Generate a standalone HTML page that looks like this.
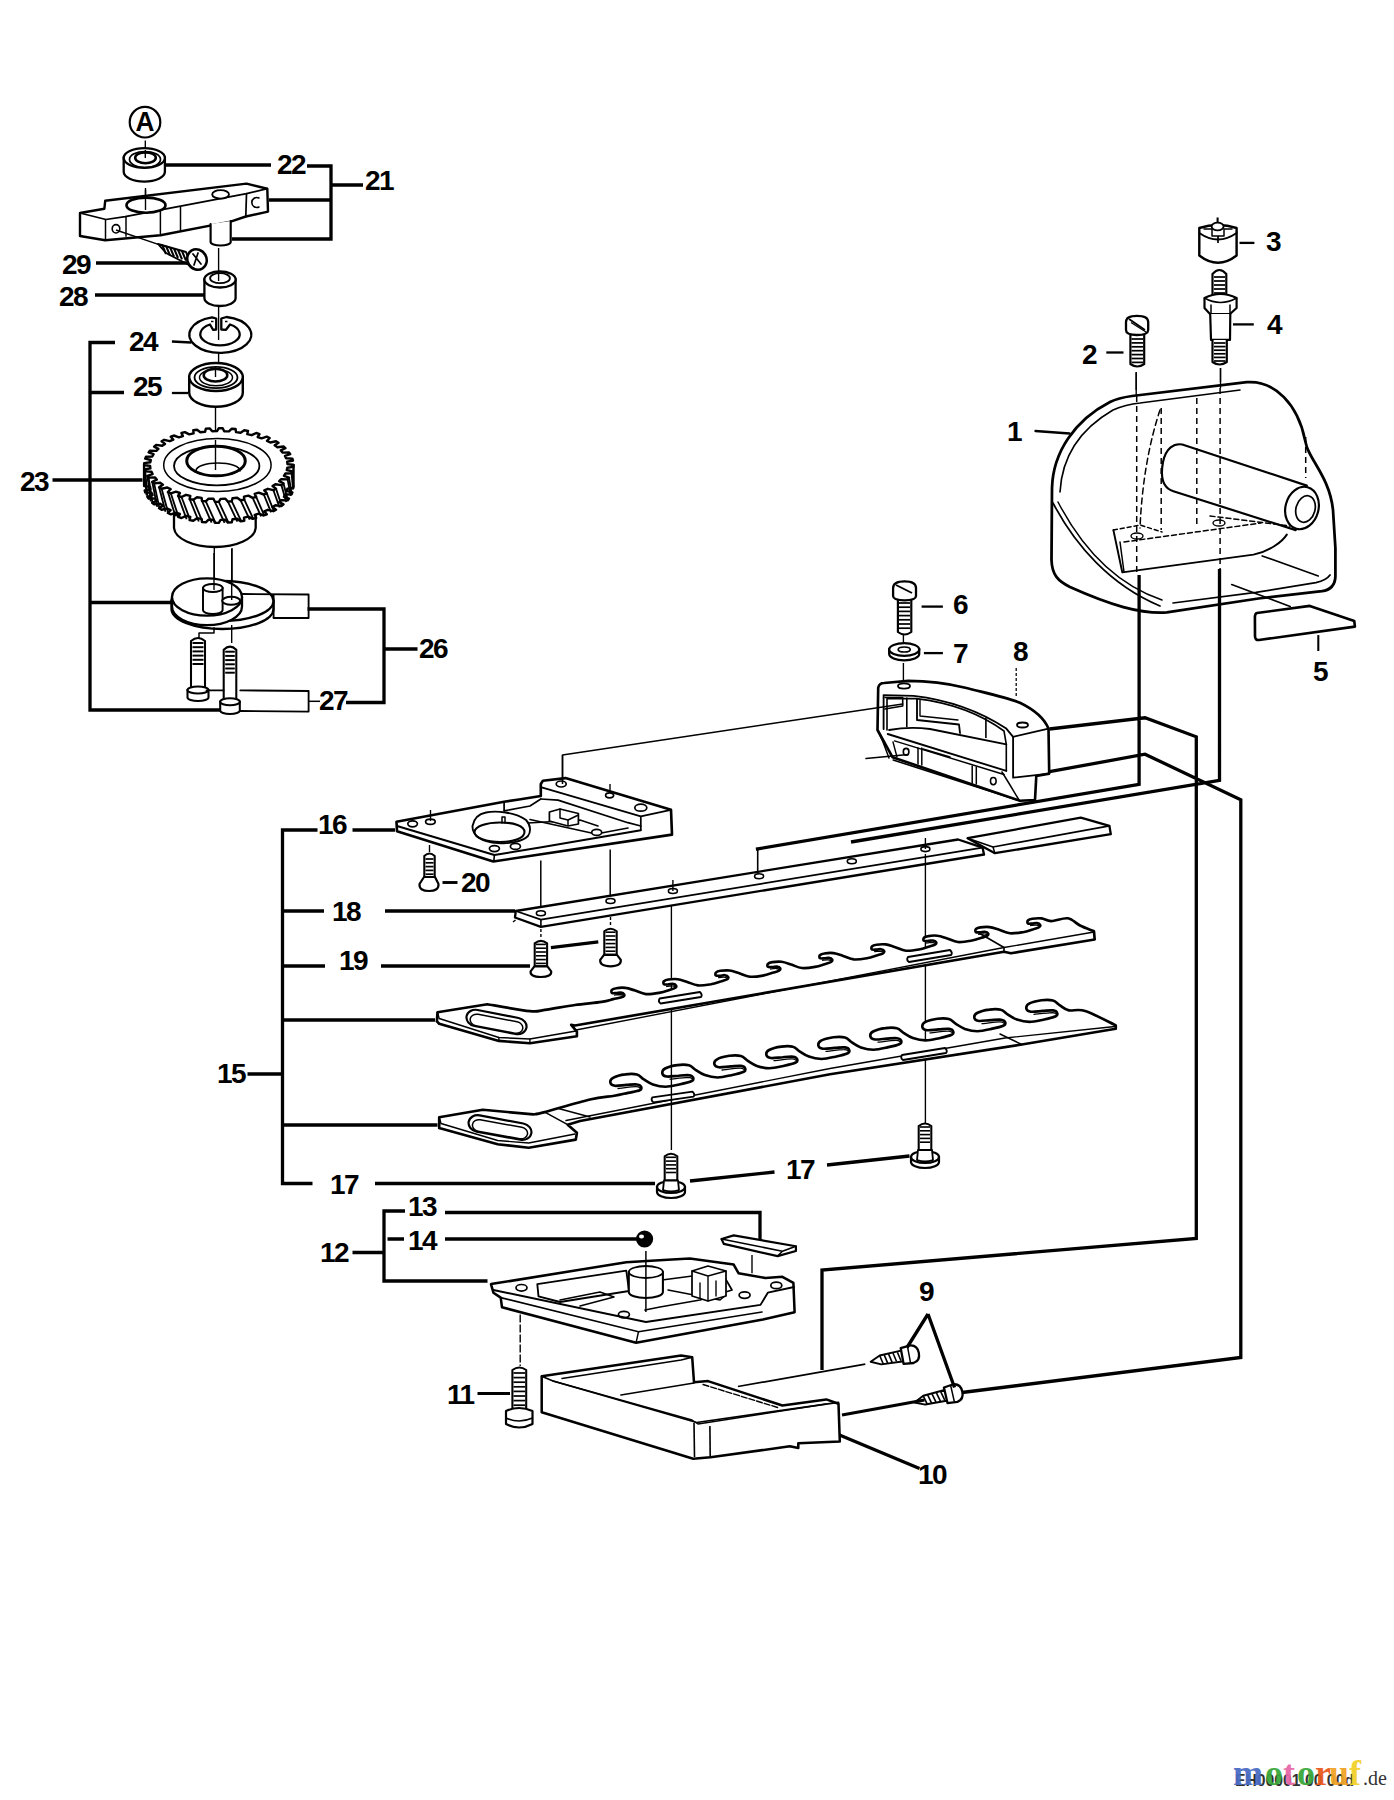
<!DOCTYPE html>
<html><head><meta charset="utf-8"><style>
html,body{margin:0;padding:0;background:#fff;}
svg{display:block;}
</style></head><body>
<svg width="1394" height="1800" viewBox="0 0 1394 1800">
<rect width="1394" height="1800" fill="#fff"/>
<ellipse cx="145" cy="122.2" rx="15.3" ry="15.3" fill="#fff" stroke="#000" stroke-width="2.18" />
<text x="145" y="131" text-anchor="middle" font-family="Liberation Sans" font-weight="bold" font-size="28.5" transform="translate(145 0) scale(0.92 1) translate(-145 0)">A</text>
<line x1="145.3" y1="140.5" x2="145.3" y2="157" stroke="#000" stroke-width="1.38" />
<path d="M123.70000000000002,158 L123.70000000000002,171.8 A20.6,9.8 0 0 0 164.9,171.8 L164.9,158 Z" fill="#fff" stroke="#000" stroke-width="2.30"/><ellipse cx="144.3" cy="158" rx="20.6" ry="9.8" fill="#fff" stroke="#000" stroke-width="2.30" />
<ellipse cx="145" cy="159.5" rx="15.5" ry="8" fill="none" stroke="#000" stroke-width="1.72" />
<ellipse cx="145.5" cy="157.8" rx="10.3" ry="5.4" fill="none" stroke="#000" stroke-width="2.53" />
<line x1="145.3" y1="150" x2="145.3" y2="158" stroke="#000" stroke-width="1.38" />
<line x1="145.5" y1="190" x2="145.5" y2="207" stroke="#000" stroke-width="1.38" />
<path d="M80,213 L104.4,208.7 L105.2,200.8 L246.5,183.6 L267.3,188.7 L268,211.6 L245.8,216.5 L230.7,221.6 L160.4,235.3 L105.2,240.3 L80,236 Z" fill="#fff" stroke="#000" stroke-width="2.42" stroke-linejoin="round" stroke-linecap="round" />
<path d="M80,213 L105.9,219.5 L125.2,216.6 L246.5,193.7 L267.3,188.7" fill="none" stroke="#000" stroke-width="1.72" stroke-linejoin="round" stroke-linecap="round" />
<path d="M246.5,193.7 L245.8,216.5" fill="none" stroke="#000" stroke-width="1.72" stroke-linejoin="round" stroke-linecap="round" />
<line x1="105.5" y1="219.5" x2="105.5" y2="240.3" stroke="#000" stroke-width="1.49" />
<line x1="126" y1="216.6" x2="126" y2="236.8" stroke="#000" stroke-width="1.49" />
<line x1="160.4" y1="211" x2="160.4" y2="235.3" stroke="#000" stroke-width="1.49" />
<line x1="180.5" y1="207" x2="180.5" y2="232" stroke="#000" stroke-width="1.49" />
<ellipse cx="146" cy="205.2" rx="19.5" ry="7.6" fill="#fff" stroke="#000" stroke-width="2.64" />
<line x1="145.5" y1="188" x2="145.5" y2="210" stroke="#000" stroke-width="1.38" />
<ellipse cx="220.6" cy="194.4" rx="8.4" ry="4.2" fill="#fff" stroke="#000" stroke-width="1.84" />
<ellipse cx="116" cy="228.8" rx="3.8" ry="4.2" fill="none" stroke="#000" stroke-width="1.61" />
<path d="M259,198 A5,5 0 1,0 259,207" fill="none" stroke="#000" stroke-width="1.61" stroke-linejoin="round" stroke-linecap="round" />
<path d="M210.6,224 L210.6,242 A10,3.5 0 0,0 230.7,242 L230.7,221" fill="#fff" stroke="#000" stroke-width="2.18" stroke-linejoin="round" stroke-linecap="round" />
<line x1="116" y1="230" x2="159" y2="244.6" stroke="#000" stroke-width="1.49" />
<path d="M158,244 L186,252 L191,266 L166,253 Z" fill="#fff" stroke="#000" stroke-width="1.84" stroke-linejoin="round" stroke-linecap="round" />
<line x1="162.0" y1="244.5" x2="166.0" y2="254.0" stroke="#000" stroke-width="2.07" />
<line x1="166.0" y1="245.8" x2="170.0" y2="255.3" stroke="#000" stroke-width="2.07" />
<line x1="170.0" y1="247.2" x2="174.0" y2="256.7" stroke="#000" stroke-width="2.07" />
<line x1="174.0" y1="248.5" x2="178.0" y2="258.0" stroke="#000" stroke-width="2.07" />
<line x1="178.0" y1="249.8" x2="182.0" y2="259.3" stroke="#000" stroke-width="2.07" />
<line x1="182.0" y1="251.2" x2="186.0" y2="260.7" stroke="#000" stroke-width="2.07" />
<ellipse cx="197" cy="259.5" rx="9.5" ry="10.5" fill="#fff" stroke="#000" stroke-width="2.53" transform="rotate(-30 197 259.5)"/>
<path d="M193,254 L201,264 M198,253 L194,265" fill="none" stroke="#000" stroke-width="1.72" stroke-linejoin="round" stroke-linecap="round" />
<line x1="218.6" y1="248" x2="218.6" y2="281" stroke="#000" stroke-width="1.38" />
<path d="M204.4,279.5 L204.4,298.0 A15.6,8 0 0 0 235.6,298.0 L235.6,279.5 Z" fill="#fff" stroke="#000" stroke-width="2.30"/><ellipse cx="220" cy="279.5" rx="15.6" ry="8" fill="#fff" stroke="#000" stroke-width="2.30" />
<ellipse cx="220" cy="278.2" rx="9.9" ry="5.0" fill="none" stroke="#000" stroke-width="1.84" />
<line x1="218.6" y1="270" x2="218.6" y2="281" stroke="#000" stroke-width="1.38" />
<line x1="218.6" y1="305" x2="218.6" y2="340" stroke="#000" stroke-width="1.38" />
<path d="M212,317.3 A31,18.1 0 1,0 226.5,317 L221.3,318.5 L221.3,329.5 L226,329.8 L230,324.5 A19.7,11.2 0 1,1 210,324.5 L213,329.8 L216.2,329.5 L216.2,318.5 Z" fill="#fff" stroke="#000" stroke-width="2.30" stroke-linejoin="round" stroke-linecap="round" />
<line x1="211" y1="321.5" x2="213.5" y2="321.5" stroke="#000" stroke-width="1.49" />
<line x1="225" y1="321.5" x2="227.5" y2="321.5" stroke="#000" stroke-width="1.49" />
<line x1="171.9" y1="341.5" x2="191.2" y2="342.5" stroke="#000" stroke-width="2.30" />
<line x1="218.6" y1="352" x2="218.6" y2="378" stroke="#000" stroke-width="1.38" />
<path d="M189.2,377 L189.2,392.8 A26.8,14 0 0 0 242.8,392.8 L242.8,377 Z" fill="#fff" stroke="#000" stroke-width="2.42"/><ellipse cx="216" cy="377" rx="26.8" ry="14" fill="#fff" stroke="#000" stroke-width="2.42" />
<ellipse cx="216" cy="377.5" rx="21.5" ry="10.6" fill="none" stroke="#000" stroke-width="1.84" />
<ellipse cx="216" cy="377.5" rx="16.5" ry="8.3" fill="none" stroke="#000" stroke-width="1.49" />
<ellipse cx="215.5" cy="375.2" rx="11.8" ry="6.4" fill="none" stroke="#000" stroke-width="2.53" />
<line x1="215.5" y1="366" x2="215.5" y2="377" stroke="#000" stroke-width="1.38" />
<line x1="171.9" y1="393" x2="188" y2="393" stroke="#000" stroke-width="2.30" />
<line x1="215.5" y1="408" x2="215.5" y2="470" stroke="#000" stroke-width="1.38" />
<path d="M174,515 L174,528 A40.9,20 0 0,0 255.7,528 L255.7,515 Z" fill="#fff" stroke="#000" stroke-width="2.30" stroke-linejoin="round" stroke-linecap="round" />
<path d="M293.5,465 L293.5,486.0 L293.4,487.9 L287.3,488.7 L286.8,491.0 L292.4,492.4 L291.6,494.3 L285.3,494.5 L284.0,496.8 L289.0,498.6 L287.6,500.4 L281.3,500.1 L279.2,502.2 L283.5,504.4 L281.4,506.1 L275.4,505.2 L272.6,507.1 L276.0,509.7 L273.4,511.2 L267.8,509.8 L264.3,511.4 L266.8,514.3 L263.8,515.5 L258.7,513.6 L254.7,514.9 L256.2,518.0 L252.7,518.9 L248.4,516.6 L244.0,517.6 L244.3,520.7 L240.6,521.3 L237.2,518.7 L232.5,519.3 L231.8,522.3 L227.9,522.6 L225.4,519.8 L220.6,519.9 L218.8,522.9 L214.9,522.8 L213.4,519.8 L208.6,519.6 L205.8,522.3 L202.0,522.0 L201.6,518.9 L197.0,518.2 L193.3,520.7 L189.6,520.0 L190.3,516.9 L186.0,515.8 L181.5,518.0 L178.1,516.9 L179.9,514.0 L176.0,512.6 L170.8,514.3 L167.9,513.0 L170.6,510.2 L167.3,508.5 L161.6,509.7 L159.1,508.2 L162.9,505.7 L160.2,503.7 L154.1,504.4 L152.2,502.8 L156.8,500.6 L154.9,498.4 L148.6,498.6 L147.4,496.8 L152.6,495.1 L151.5,492.8 L145.2,492.4 L144.7,490.5 L150.4,489.3 L150.1,486.9 L144.1,486.0 L144.10000000000002,465 Z" fill="#fff" stroke="#000" stroke-width="2.42" stroke-linejoin="round" stroke-linecap="round" />
<line x1="291.6" y1="473.3" x2="293.1" y2="489.6" stroke="#000" stroke-width="1.84" />
<line x1="292.4" y1="471.4" x2="293.4" y2="487.6" stroke="#000" stroke-width="1.84" />
<line x1="287.6" y1="479.4" x2="290.8" y2="495.9" stroke="#000" stroke-width="1.84" />
<line x1="289.0" y1="477.6" x2="291.7" y2="494.0" stroke="#000" stroke-width="1.84" />
<line x1="281.4" y1="485.1" x2="286.2" y2="501.9" stroke="#000" stroke-width="1.84" />
<line x1="283.5" y1="483.4" x2="287.8" y2="500.2" stroke="#000" stroke-width="1.84" />
<line x1="273.4" y1="490.2" x2="279.6" y2="507.5" stroke="#000" stroke-width="1.84" />
<line x1="276.0" y1="488.7" x2="281.8" y2="505.9" stroke="#000" stroke-width="1.84" />
<line x1="263.8" y1="494.5" x2="271.1" y2="512.3" stroke="#000" stroke-width="1.84" />
<line x1="266.8" y1="493.3" x2="273.8" y2="511.0" stroke="#000" stroke-width="1.84" />
<line x1="252.7" y1="497.9" x2="261.1" y2="516.4" stroke="#000" stroke-width="1.84" />
<line x1="256.2" y1="497.0" x2="264.2" y2="515.3" stroke="#000" stroke-width="1.84" />
<line x1="240.6" y1="500.3" x2="249.7" y2="519.6" stroke="#000" stroke-width="1.84" />
<line x1="244.3" y1="499.7" x2="253.2" y2="518.7" stroke="#000" stroke-width="1.84" />
<line x1="227.9" y1="501.6" x2="237.4" y2="521.7" stroke="#000" stroke-width="1.84" />
<line x1="231.8" y1="501.3" x2="241.2" y2="521.2" stroke="#000" stroke-width="1.84" />
<line x1="214.9" y1="501.8" x2="224.6" y2="522.8" stroke="#000" stroke-width="1.84" />
<line x1="218.8" y1="501.9" x2="228.5" y2="522.6" stroke="#000" stroke-width="1.84" />
<line x1="202.0" y1="501.0" x2="211.6" y2="522.7" stroke="#000" stroke-width="1.84" />
<line x1="205.8" y1="501.3" x2="215.5" y2="522.9" stroke="#000" stroke-width="1.84" />
<line x1="189.6" y1="499.0" x2="198.8" y2="521.5" stroke="#000" stroke-width="1.84" />
<line x1="193.3" y1="499.7" x2="202.6" y2="522.0" stroke="#000" stroke-width="1.84" />
<line x1="178.1" y1="495.9" x2="186.6" y2="519.3" stroke="#000" stroke-width="1.84" />
<line x1="181.5" y1="497.0" x2="190.2" y2="520.1" stroke="#000" stroke-width="1.84" />
<line x1="167.9" y1="492.0" x2="175.4" y2="516.0" stroke="#000" stroke-width="1.84" />
<line x1="170.8" y1="493.3" x2="178.6" y2="517.1" stroke="#000" stroke-width="1.84" />
<line x1="159.1" y1="487.2" x2="165.5" y2="511.8" stroke="#000" stroke-width="1.84" />
<line x1="161.6" y1="488.7" x2="168.3" y2="513.2" stroke="#000" stroke-width="1.84" />
<line x1="152.2" y1="481.8" x2="157.2" y2="506.9" stroke="#000" stroke-width="1.84" />
<line x1="154.1" y1="483.4" x2="159.5" y2="508.4" stroke="#000" stroke-width="1.84" />
<line x1="147.4" y1="475.8" x2="150.8" y2="501.3" stroke="#000" stroke-width="1.84" />
<line x1="148.6" y1="477.6" x2="152.5" y2="503.0" stroke="#000" stroke-width="1.84" />
<line x1="144.7" y1="469.5" x2="146.5" y2="495.2" stroke="#000" stroke-width="1.84" />
<line x1="145.2" y1="471.4" x2="147.5" y2="497.1" stroke="#000" stroke-width="1.84" />
<path d="M293.5,465.0 L293.4,466.9 L287.3,467.7 L286.8,470.0 L292.4,471.4 L291.6,473.3 L285.3,473.5 L284.0,475.8 L289.0,477.6 L287.6,479.4 L281.3,479.1 L279.2,481.2 L283.5,483.4 L281.4,485.1 L275.4,484.2 L272.6,486.1 L276.0,488.7 L273.4,490.2 L267.8,488.8 L264.3,490.4 L266.8,493.3 L263.8,494.5 L258.7,492.6 L254.7,493.9 L256.2,497.0 L252.7,497.9 L248.4,495.6 L244.0,496.6 L244.3,499.7 L240.6,500.3 L237.2,497.7 L232.5,498.3 L231.8,501.3 L227.9,501.6 L225.4,498.8 L220.6,498.9 L218.8,501.9 L214.9,501.8 L213.4,498.8 L208.6,498.6 L205.8,501.3 L202.0,501.0 L201.6,497.9 L197.0,497.2 L193.3,499.7 L189.6,499.0 L190.3,495.9 L186.0,494.8 L181.5,497.0 L178.1,495.9 L179.9,493.0 L176.0,491.6 L170.8,493.3 L167.9,492.0 L170.6,489.2 L167.3,487.5 L161.6,488.7 L159.1,487.2 L162.9,484.7 L160.2,482.7 L154.1,483.4 L152.2,481.8 L156.8,479.6 L154.9,477.4 L148.6,477.6 L147.4,475.8 L152.6,474.1 L151.5,471.8 L145.2,471.4 L144.7,469.5 L150.4,468.3 L150.1,465.9 L144.1,465.0 L144.2,463.1 L150.3,462.3 L150.8,460.0 L145.2,458.6 L146.0,456.7 L152.3,456.5 L153.6,454.2 L148.6,452.4 L150.0,450.6 L156.3,450.9 L158.4,448.8 L154.1,446.6 L156.2,444.9 L162.2,445.8 L165.0,443.9 L161.6,441.3 L164.2,439.8 L169.8,441.2 L173.3,439.6 L170.8,436.7 L173.8,435.5 L178.9,437.4 L182.9,436.1 L181.4,433.0 L184.9,432.1 L189.2,434.4 L193.6,433.4 L193.3,430.3 L197.0,429.7 L200.4,432.3 L205.1,431.7 L205.8,428.7 L209.7,428.4 L212.2,431.2 L217.0,431.1 L218.8,428.1 L222.7,428.2 L224.2,431.2 L229.0,431.4 L231.8,428.7 L235.6,429.0 L236.0,432.1 L240.6,432.8 L244.3,430.3 L248.0,431.0 L247.3,434.1 L251.6,435.2 L256.2,433.0 L259.5,434.1 L257.7,437.0 L261.6,438.4 L266.8,436.7 L269.7,438.0 L267.0,440.8 L270.3,442.5 L276.0,441.3 L278.5,442.8 L274.7,445.3 L277.4,447.3 L283.5,446.5 L285.4,448.2 L280.8,450.4 L282.7,452.6 L289.0,452.4 L290.2,454.2 L285.0,455.9 L286.1,458.2 L292.4,458.6 L292.9,460.5 L287.2,461.7 L287.5,464.1 Z" fill="#fff" stroke="#000" stroke-width="2.42" stroke-linejoin="round" stroke-linecap="round" />
<ellipse cx="217.4" cy="465" rx="53.7" ry="26.5" fill="none" stroke="#000" stroke-width="1.49" />
<ellipse cx="216.7" cy="465.9" rx="42.7" ry="19.5" fill="none" stroke="#000" stroke-width="1.84" />
<ellipse cx="216" cy="461" rx="29.3" ry="14.8" fill="#fff" stroke="#000" stroke-width="2.99" />
<path d="M196,471 A22,8 0 0,1 240,471" fill="none" stroke="#000" stroke-width="1.61" stroke-linejoin="round" stroke-linecap="round" />
<line x1="215.5" y1="440" x2="215.5" y2="470" stroke="#000" stroke-width="1.38" />
<line x1="214.3" y1="548" x2="214.3" y2="590" stroke="#000" stroke-width="1.38" />
<line x1="232" y1="548" x2="232" y2="600" stroke="#000" stroke-width="1.38" />
<path d="M171.5,601 L171.5,609 A51,20 0 0,0 273.5,609 L273.5,601 Z" fill="#fff" stroke="#000" stroke-width="2.30" stroke-linejoin="round" stroke-linecap="round" />
<ellipse cx="222.5" cy="601" rx="51" ry="20" fill="#fff" stroke="#000" stroke-width="2.30" />
<path d="M172,597 L172,606.5 A35,18.6 0 0,0 242,606.5 L242,597 Z" fill="#fff" stroke="#000" stroke-width="2.30" stroke-linejoin="round" stroke-linecap="round" />
<ellipse cx="207" cy="597" rx="35" ry="18.6" fill="#fff" stroke="#000" stroke-width="2.30" />
<path d="M203.0,588 L203.0,610 A9.8,4 0 0 0 222.60000000000002,610 L222.60000000000002,588 Z" fill="#fff" stroke="#000" stroke-width="1.95"/><ellipse cx="212.8" cy="588" rx="9.8" ry="4" fill="#fff" stroke="#000" stroke-width="1.95" />
<ellipse cx="231.2" cy="600.8" rx="9" ry="4" fill="#fff" stroke="#000" stroke-width="2.07" />
<line x1="214" y1="553" x2="214" y2="590" stroke="#000" stroke-width="1.38" />
<line x1="231.7" y1="549" x2="231.7" y2="600" stroke="#000" stroke-width="1.38" />
<line x1="231.7" y1="625" x2="231.7" y2="643" stroke="#000" stroke-width="1.38" />
<path d="M214,627.8 L214,633 L199,633 L199,637.6" fill="none" stroke="#000" stroke-width="1.49" stroke-linejoin="round" stroke-linecap="round" />
<path d="M242.6,594 L308.6,594.5 L308.6,618 L273.6,618" fill="none" stroke="#000" stroke-width="1.84" stroke-linejoin="round" stroke-linecap="round" />
<line x1="273.6" y1="594.5" x2="273.6" y2="618" stroke="#000" stroke-width="1.84" />
<path d="M191,641 Q198,635 205,641 L205,689 L191,689 Z" fill="#fff" stroke="#000" stroke-width="2.07" stroke-linejoin="round" stroke-linecap="round" />
<line x1="192.5" y1="643.0" x2="203.5" y2="643.0" stroke="#000" stroke-width="1.95" />
<line x1="192.5" y1="647.2" x2="203.5" y2="647.2" stroke="#000" stroke-width="1.95" />
<line x1="192.5" y1="651.4" x2="203.5" y2="651.4" stroke="#000" stroke-width="1.95" />
<line x1="192.5" y1="655.6" x2="203.5" y2="655.6" stroke="#000" stroke-width="1.95" />
<line x1="192.5" y1="659.8" x2="203.5" y2="659.8" stroke="#000" stroke-width="1.95" />
<line x1="192.5" y1="664.0" x2="203.5" y2="664.0" stroke="#000" stroke-width="1.95" />
<path d="M187.5,690 L187.5,697.5 A10.5,3.5 0 0 0 208.5,697.5 L208.5,690 Z" fill="#fff" stroke="#000" stroke-width="2.07"/><ellipse cx="198" cy="690" rx="10.5" ry="3.5" fill="#fff" stroke="#000" stroke-width="2.07" />
<path d="M223.7,649.7 Q230,643.7 236.3,649.7 L236.3,700.7 L223.7,700.7 Z" fill="#fff" stroke="#000" stroke-width="2.07" stroke-linejoin="round" stroke-linecap="round" />
<line x1="225.2" y1="651.7" x2="234.8" y2="651.7" stroke="#000" stroke-width="1.95" />
<line x1="225.2" y1="655.9000000000001" x2="234.8" y2="655.9000000000001" stroke="#000" stroke-width="1.95" />
<line x1="225.2" y1="660.1" x2="234.8" y2="660.1" stroke="#000" stroke-width="1.95" />
<line x1="225.2" y1="664.3000000000001" x2="234.8" y2="664.3000000000001" stroke="#000" stroke-width="1.95" />
<line x1="225.2" y1="668.5" x2="234.8" y2="668.5" stroke="#000" stroke-width="1.95" />
<line x1="225.2" y1="672.7" x2="234.8" y2="672.7" stroke="#000" stroke-width="1.95" />
<path d="M220.2,701.7 L220.2,710.5 A9.8,3.5 0 0 0 239.8,710.5 L239.8,701.7 Z" fill="#fff" stroke="#000" stroke-width="2.07"/><ellipse cx="230" cy="701.7" rx="9.8" ry="3.5" fill="#fff" stroke="#000" stroke-width="2.07" />
<path d="M206.5,690.4 L223.5,690.4 M240.3,690.4 L308.6,691 L308.6,711.6 L240.3,711" fill="none" stroke="#000" stroke-width="1.84" stroke-linejoin="round" stroke-linecap="round" />
<line x1="308.6" y1="701.3" x2="320" y2="701.3" stroke="#000" stroke-width="1.49" />
<path d="M1199.3,228 L1199.3,255.5 Q1218,270 1236.6,255.5 L1236.6,228 Q1218,222 1199.3,228 Z" fill="#fff" stroke="#000" stroke-width="2.42" stroke-linejoin="round" stroke-linecap="round" />
<path d="M1199.3,233 Q1218,246 1236.6,233" fill="none" stroke="#000" stroke-width="1.84" stroke-linejoin="round" stroke-linecap="round" />
<path d="M1204,229 L1212,229 L1212,236 L1224,236 L1224,229 L1232,229" fill="none" stroke="#000" stroke-width="1.49" stroke-linejoin="round" stroke-linecap="round" />
<line x1="1218" y1="236" x2="1218" y2="243" stroke="#000" stroke-width="1.72" />
<ellipse cx="1217.6" cy="226.5" rx="6" ry="3.8" fill="#fff" stroke="#000" stroke-width="1.84" />
<line x1="1217.6" y1="217.5" x2="1217.6" y2="222.5" stroke="#000" stroke-width="2.07" />
<line x1="1239.5" y1="242.9" x2="1254.4" y2="242.9" stroke="#000" stroke-width="2.30" />
<path d="M1212.5,274 Q1219.4,266 1226.3,274 L1226.3,297 L1212.5,297 Z" fill="#fff" stroke="#000" stroke-width="2.18" stroke-linejoin="round" stroke-linecap="round" />
<line x1="1214" y1="277" x2="1225" y2="277" stroke="#000" stroke-width="1.72" />
<line x1="1214" y1="281" x2="1225" y2="281" stroke="#000" stroke-width="1.72" />
<line x1="1214" y1="285" x2="1225" y2="285" stroke="#000" stroke-width="1.72" />
<line x1="1214" y1="289" x2="1225" y2="289" stroke="#000" stroke-width="1.72" />
<line x1="1214" y1="293" x2="1225" y2="293" stroke="#000" stroke-width="1.72" />
<path d="M1204.5,298 L1204.5,308 L1210,314 L1230,314 L1236.6,308 L1236.6,298 Q1220.5,290 1204.5,298 Z" fill="#fff" stroke="#000" stroke-width="2.18" stroke-linejoin="round" stroke-linecap="round" />
<path d="M1204.5,298 Q1220.5,307 1236.6,298" fill="none" stroke="#000" stroke-width="1.61" stroke-linejoin="round" stroke-linecap="round" />
<path d="M1211,305 L1211,313 M1230,305 L1230,313" fill="none" stroke="#000" stroke-width="1.49" stroke-linejoin="round" stroke-linecap="round" />
<path d="M1210.2,314 L1211,339.9 L1230,339.9 L1230.3,314" fill="#fff" stroke="#000" stroke-width="2.18" stroke-linejoin="round" stroke-linecap="round" />
<path d="M1212.5,340 L1212.5,362 Q1219.6,367 1226.8,362 L1226.8,340" fill="#fff" stroke="#000" stroke-width="2.18" stroke-linejoin="round" stroke-linecap="round" />
<line x1="1214" y1="343.0" x2="1225.5" y2="343.0" stroke="#000" stroke-width="1.72" />
<line x1="1214" y1="346.6" x2="1225.5" y2="346.6" stroke="#000" stroke-width="1.72" />
<line x1="1214" y1="350.2" x2="1225.5" y2="350.2" stroke="#000" stroke-width="1.72" />
<line x1="1214" y1="353.8" x2="1225.5" y2="353.8" stroke="#000" stroke-width="1.72" />
<line x1="1214" y1="357.4" x2="1225.5" y2="357.4" stroke="#000" stroke-width="1.72" />
<line x1="1214" y1="361.0" x2="1225.5" y2="361.0" stroke="#000" stroke-width="1.72" />
<line x1="1233" y1="324.4" x2="1253.8" y2="324.4" stroke="#000" stroke-width="2.30" />
<line x1="1220.5" y1="368" x2="1220.5" y2="382" stroke="#000" stroke-width="1.38" />
<path d="M1130.4,333 L1130.4,364 Q1137.3,369 1144.2,364 L1144.2,333" fill="#fff" stroke="#000" stroke-width="2.18" stroke-linejoin="round" stroke-linecap="round" />
<line x1="1131.5" y1="339.0" x2="1143" y2="339.0" stroke="#000" stroke-width="1.72" />
<line x1="1131.5" y1="342.9" x2="1143" y2="342.9" stroke="#000" stroke-width="1.72" />
<line x1="1131.5" y1="346.8" x2="1143" y2="346.8" stroke="#000" stroke-width="1.72" />
<line x1="1131.5" y1="350.7" x2="1143" y2="350.7" stroke="#000" stroke-width="1.72" />
<line x1="1131.5" y1="354.6" x2="1143" y2="354.6" stroke="#000" stroke-width="1.72" />
<line x1="1131.5" y1="358.5" x2="1143" y2="358.5" stroke="#000" stroke-width="1.72" />
<line x1="1131.5" y1="362.4" x2="1143" y2="362.4" stroke="#000" stroke-width="1.72" />
<path d="M1126,322 Q1126,315.8 1137,315.8 Q1148.2,315.8 1148.2,322 L1148.2,330 Q1148,335 1137,335 Q1126,335 1126,330 Z" fill="#fff" stroke="#000" stroke-width="2.30" stroke-linejoin="round" stroke-linecap="round" />
<line x1="1129" y1="319" x2="1145" y2="330" stroke="#000" stroke-width="1.84" />
<line x1="1131" y1="322.5" x2="1146" y2="332" stroke="#000" stroke-width="1.38" />
<line x1="1106.3" y1="352.5" x2="1123.5" y2="352.5" stroke="#000" stroke-width="2.30" />
<line x1="1136.2" y1="372.6" x2="1136.2" y2="390" stroke="#000" stroke-width="1.38" />
<path d="M1052,488 C1053,452 1075,420 1110,402 C1118,398 1125,397 1132,396 L1246.8,382.2 C1275,380 1298,405 1305,440 L1306.8,447 C1312,462 1330,480 1333,510 L1335.4,548 L1335.4,576.6 C1335,586 1330,590 1322,591.2 L1258.5,598.5 L1166.8,612.4 C1140,614 1110,605 1070,587 C1058,581 1052,575 1051.5,560 Z" fill="#fff" stroke="#000" stroke-width="2.76" stroke-linejoin="round" stroke-linecap="round" />
<path d="M1060,492 C1062,455 1082,428 1113,410 C1122,406 1130,404 1140,403 L1240,390" fill="none" stroke="#000" stroke-width="1.61" stroke-linejoin="round" stroke-linecap="round" />
<path d="M1053,503 C1075,545 1110,585 1160,606" fill="none" stroke="#000" stroke-width="1.72" stroke-linejoin="round" stroke-linecap="round" />
<path d="M1058,502 C1082,548 1115,584 1162,600" fill="none" stroke="#000" stroke-width="1.49" stroke-linejoin="round" stroke-linecap="round" />
<path d="M1173,603 L1256,592.4 L1315.9,582.7 C1323,581 1328,578 1330,575" fill="none" stroke="#000" stroke-width="1.72" stroke-linejoin="round" stroke-linecap="round" />
<path d="M1231.7,584.5 L1290.2,606.5" fill="none" stroke="#000" stroke-width="1.61" stroke-linejoin="round" stroke-linecap="round" />
<path d="M1262.2,555.9 L1318.3,576" fill="none" stroke="#000" stroke-width="1.61" stroke-linejoin="round" stroke-linecap="round" />
<path d="M1182.3,444.5 L1306.8,485.6 L1295.7,530.1 L1173.4,491.2 C1163,488 1160,478 1163,462 C1166,448 1174,443 1182.3,444.5 Z" fill="#fff" stroke="#000" stroke-width="2.18" stroke-linejoin="round" stroke-linecap="round" />
<ellipse cx="1302" cy="508" rx="16.5" ry="21.5" fill="#fff" stroke="#000" stroke-width="2.18" transform="rotate(15 1302 508)"/>
<ellipse cx="1305.5" cy="509" rx="9.5" ry="13.5" fill="none" stroke="#000" stroke-width="1.72" transform="rotate(15 1305.5 509)"/>
<path d="M1113.4,530.1 L1122.3,572.4 L1253.5,554.6 C1270,551 1282,542 1286.8,534.6" fill="none" stroke="#000" stroke-width="1.95" stroke-linejoin="round" stroke-linecap="round" />
<path d="M1113.4,530.1 L1140,525 L1162,532" fill="none" stroke="#000" stroke-width="1.49" stroke-linejoin="round" stroke-linecap="round" stroke-dasharray="4 3"/>
<path d="M1124,542 L1261,523" fill="none" stroke="#000" stroke-width="1.49" stroke-linejoin="round" stroke-linecap="round" stroke-dasharray="5 3"/>
<path d="M1120,542 L1124,572" fill="none" stroke="#000" stroke-width="1.49" stroke-linejoin="round" stroke-linecap="round" />
<path d="M1210,516 L1290,526" fill="none" stroke="#000" stroke-width="1.49" stroke-linejoin="round" stroke-linecap="round" stroke-dasharray="5 3"/>
<line x1="1136.7" y1="396" x2="1136.7" y2="572" stroke="#000" stroke-width="1.49" stroke-dasharray="6 4"/>
<line x1="1161.2" y1="408" x2="1161.2" y2="530" stroke="#000" stroke-width="1.49" stroke-dasharray="6 4"/>
<line x1="1196.8" y1="398" x2="1196.8" y2="525" stroke="#000" stroke-width="1.49" stroke-dasharray="6 4"/>
<line x1="1220.1" y1="388" x2="1220.1" y2="570" stroke="#000" stroke-width="1.49" stroke-dasharray="6 4"/>
<line x1="1305.7" y1="437" x2="1305.7" y2="478" stroke="#000" stroke-width="1.49" stroke-dasharray="6 4"/>
<path d="M1160,410 C1150,440 1142,480 1140,528" fill="none" stroke="#000" stroke-width="1.49" stroke-linejoin="round" stroke-linecap="round" stroke-dasharray="6 4"/>
<ellipse cx="1137" cy="536" rx="6" ry="3" fill="none" stroke="#000" stroke-width="1.38" />
<ellipse cx="1219" cy="523" rx="6" ry="3" fill="none" stroke="#000" stroke-width="1.38" />
<path d="M1035.5,431 L1069.5,433.5" fill="none" stroke="#000" stroke-width="2.30" stroke-linejoin="round" stroke-linecap="round" />
<line x1="1136.2" y1="372" x2="1136.2" y2="396" stroke="#000" stroke-width="1.38" />
<line x1="1220.5" y1="368" x2="1220.5" y2="388" stroke="#000" stroke-width="1.38" />
<path d="M1257,613 L1309.8,605.9 L1354.3,621.1 L1354.9,626.6 L1259,640 Q1255,640.5 1255,636 L1254.9,617 Q1255,613.5 1257,613 Z" fill="#fff" stroke="#000" stroke-width="2.64" stroke-linejoin="round" stroke-linecap="round" />
<line x1="1318.3" y1="635.1" x2="1318.3" y2="651" stroke="#000" stroke-width="2.07" />
<path d="M897.9,599 L897.9,632 Q904.6,637 911.3,632 L911.3,599" fill="#fff" stroke="#000" stroke-width="2.18" stroke-linejoin="round" stroke-linecap="round" />
<line x1="899" y1="603.0" x2="910" y2="603.0" stroke="#000" stroke-width="1.72" />
<line x1="899" y1="607.2" x2="910" y2="607.2" stroke="#000" stroke-width="1.72" />
<line x1="899" y1="611.4" x2="910" y2="611.4" stroke="#000" stroke-width="1.72" />
<line x1="899" y1="615.6" x2="910" y2="615.6" stroke="#000" stroke-width="1.72" />
<line x1="899" y1="619.8" x2="910" y2="619.8" stroke="#000" stroke-width="1.72" />
<line x1="899" y1="624.0" x2="910" y2="624.0" stroke="#000" stroke-width="1.72" />
<line x1="899" y1="628.2" x2="910" y2="628.2" stroke="#000" stroke-width="1.72" />
<path d="M893.1,588 Q893.1,581.3 904.6,581.3 Q916,581.3 916,588 L916,596 Q916,600.3 904.6,600.3 Q893.1,600.3 893.1,596 Z" fill="#fff" stroke="#000" stroke-width="2.30" stroke-linejoin="round" stroke-linecap="round" />
<line x1="896" y1="585" x2="912" y2="593" stroke="#000" stroke-width="1.84" />
<line x1="921.6" y1="606.6" x2="942.9" y2="606.6" stroke="#000" stroke-width="2.30" />
<line x1="903.4" y1="635" x2="903.4" y2="642" stroke="#000" stroke-width="1.38" />
<path d="M889.2,649.5 L889.2,654.0 A15,6.3 0 0 0 919.2,654.0 L919.2,649.5 Z" fill="#fff" stroke="#000" stroke-width="2.30"/><ellipse cx="904.2" cy="649.5" rx="15" ry="6.3" fill="#fff" stroke="#000" stroke-width="2.30" />
<ellipse cx="904.2" cy="649.5" rx="6" ry="2.5" fill="none" stroke="#000" stroke-width="1.72" />
<line x1="923.9" y1="653.1" x2="942.9" y2="653.1" stroke="#000" stroke-width="2.30" />
<line x1="903.4" y1="663" x2="903.4" y2="684" stroke="#000" stroke-width="1.38" />
<line x1="1016.2" y1="668" x2="1016.2" y2="698" stroke="#000" stroke-width="1.26" stroke-dasharray="3 2"/>
<path d="M878.2,687.7 C879,684 881,683 884,683 L908.2,680.9 C930,681 950,684 965.4,687.7 C990,694 1008,698 1019.9,702.7 C1035,710 1045,720 1048.5,728.6 L1049.2,773.6 L1036.3,776 L1035,800 L1019.9,800.8 L892.5,757.2 L877.5,730 Z" fill="#fff" stroke="#000" stroke-width="2.64" stroke-linejoin="round" stroke-linecap="round" />
<path d="M883.6,729 L883.6,695.2 L913.6,695.9 C940,699 975,708 1006.3,728.6 L1013.1,736.8" fill="none" stroke="#000" stroke-width="1.84" stroke-linejoin="round" stroke-linecap="round" />
<path d="M887,730 L887,698.5 L916.3,698.6 C945,702 978,712 1004,731 L1006.3,744.3 L1006.3,770.9" fill="none" stroke="#000" stroke-width="1.61" stroke-linejoin="round" stroke-linecap="round" />
<path d="M1013.1,736.8 L1048.5,728.6 M1013.1,736.8 L1013.1,777.7 L1049.2,773.6" fill="none" stroke="#000" stroke-width="1.84" stroke-linejoin="round" stroke-linecap="round" />
<ellipse cx="1022.5" cy="725" rx="5.5" ry="2.5" fill="none" stroke="#000" stroke-width="1.84" />
<path d="M917,698.8 L917,720 L959,724.5 L960,733" fill="none" stroke="#000" stroke-width="1.84" stroke-linejoin="round" stroke-linecap="round" />
<path d="M920,700 L920,716 L958,720" fill="none" stroke="#000" stroke-width="1.38" stroke-linejoin="round" stroke-linecap="round" />
<line x1="985.9" y1="717.7" x2="985.9" y2="738.1" stroke="#000" stroke-width="1.61" />
<line x1="906.8" y1="697.5" x2="906.8" y2="727" stroke="#000" stroke-width="1.61" />
<path d="M885,697.5 L902.7,697.5 L902.7,706 L885,709" fill="none" stroke="#000" stroke-width="1.61" stroke-linejoin="round" stroke-linecap="round" />
<path d="M889.1,730 C900,728 915,727 930,729 L1006.3,744.3" fill="none" stroke="#000" stroke-width="1.84" stroke-linejoin="round" stroke-linecap="round" />
<path d="M887.7,734 L1006.3,770.9" fill="none" stroke="#000" stroke-width="1.84" stroke-linejoin="round" stroke-linecap="round" />
<path d="M894.5,740.9 L1004,774.5" fill="none" stroke="#000" stroke-width="1.49" stroke-linejoin="round" stroke-linecap="round" />
<path d="M893.2,760 L1015.8,799.5" fill="none" stroke="#000" stroke-width="1.61" stroke-linejoin="round" stroke-linecap="round" />
<path d="M877.5,730 L883,742 L889,758" fill="none" stroke="#000" stroke-width="1.49" stroke-linejoin="round" stroke-linecap="round" />
<path d="M893,742 L897,757" fill="none" stroke="#000" stroke-width="1.38" stroke-linejoin="round" stroke-linecap="round" />
<path d="M1002,772 L1010,785 L1019,800" fill="none" stroke="#000" stroke-width="1.49" stroke-linejoin="round" stroke-linecap="round" />
<path d="M918,748 L918,764 M921.8,748 L921.8,765 M972.2,766 L972.2,783 M976.3,767 L976.3,784" fill="none" stroke="#000" stroke-width="1.49" stroke-linejoin="round" stroke-linecap="round" />
<ellipse cx="906.1" cy="751.8" rx="2.8" ry="3.4" fill="none" stroke="#000" stroke-width="1.61" />
<ellipse cx="993.3" cy="781.1" rx="2.8" ry="3.6" fill="none" stroke="#000" stroke-width="1.61" />
<path d="M923,749 L950,757" fill="none" stroke="#000" stroke-width="1.38" stroke-linejoin="round" stroke-linecap="round" />
<ellipse cx="904" cy="686" rx="6" ry="2.6" fill="#fff" stroke="#000" stroke-width="1.84" />
<path d="M562.5,782 L562.5,755 L902.7,704" fill="none" stroke="#000" stroke-width="1.49" stroke-linejoin="round" stroke-linecap="round" />
<path d="M866,758.6 L908.2,754.5" fill="none" stroke="#000" stroke-width="1.49" stroke-linejoin="round" stroke-linecap="round" />
<path d="M396.5,821.7 L504.1,801.7 L519.0,799.5 L540.8,796.0 L540.8,784.0 L542.9,780.8 L565.5,778.1 L671.0,809.8 L672.0,834.6 L493.3,861.5 L397.0,831.3 Z" fill="#fff" stroke="#000" stroke-width="2.64" stroke-linejoin="round" stroke-linecap="round" />
<path d="M397.0,826.0 L494.4,855.0 L540.0,847.5 L640.8,830.3" fill="none" stroke="#000" stroke-width="1.95" stroke-linejoin="round" stroke-linecap="round" />
<line x1="494.4" y1="855" x2="493.8" y2="861.5" stroke="#000" stroke-width="1.61" />
<path d="M540.8,787.2 L640.8,816.3 L671.0,809.8" fill="none" stroke="#000" stroke-width="1.84" stroke-linejoin="round" stroke-linecap="round" />
<line x1="640.8" y1="816.3" x2="640.8" y2="830.3" stroke="#000" stroke-width="1.72" />
<line x1="504.1" y1="801.7" x2="504.1" y2="810.9" stroke="#000" stroke-width="1.72" />
<path d="M540.8,799.0 L558.0,800.1 L627.9,822.7 L640.8,826.0" fill="none" stroke="#000" stroke-width="1.72" stroke-linejoin="round" stroke-linecap="round" />
<path d="M504.1,810.9 L530.0,806.0 L540.8,799.0" fill="none" stroke="#000" stroke-width="1.61" stroke-linejoin="round" stroke-linecap="round" />
<path d="M530.0,819.5 L596.0,834.0 L628.0,828.0" fill="none" stroke="#000" stroke-width="1.61" stroke-linejoin="round" stroke-linecap="round" />
<path d="M528.0,823.0 L580.0,820.0 L598.0,826.0" fill="none" stroke="#000" stroke-width="1.49" stroke-linejoin="round" stroke-linecap="round" />
<path d="M549.4,812.0 L560.0,809.0 L578.4,813.5 L578.4,824.0 L568.0,826.0 L549.4,821.0 Z" fill="#fff" stroke="#000" stroke-width="1.72" stroke-linejoin="round" stroke-linecap="round" />
<path d="M560.0,809.0 L560.0,818.0 L568.0,820.0 L578.4,815.0" fill="none" stroke="#000" stroke-width="1.49" stroke-linejoin="round" stroke-linecap="round" />
<line x1="568" y1="820" x2="568" y2="826" stroke="#000" stroke-width="1.49" />
<path d="M472.5,826 C474,818 478,814 486,812.5 C496,810.5 515,812 526,820 C531,825 531,832 528,836 C522,842 508,844 498,843 C482,842 472,836 472.5,826 Z" fill="none" stroke="#000" stroke-width="1.84" stroke-linejoin="round" stroke-linecap="round" />
<path d="M474.5,832 C475,826 487,822.5 500,822.5 C514,822.5 524.5,826 524.5,832 C524.5,838 514,842 500,842 C487,842 474.5,838 474.5,832 Z" fill="none" stroke="#000" stroke-width="2.07" stroke-linejoin="round" stroke-linecap="round" />
<path d="M502,823 L502,817 L505,817 L505,823" fill="none" stroke="#000" stroke-width="1.49" stroke-linejoin="round" stroke-linecap="round" />
<ellipse cx="412.6" cy="823.8" rx="4.8" ry="3" fill="#fff" stroke="#000" stroke-width="1.72" />
<ellipse cx="430.4" cy="821.7" rx="4.8" ry="2.6" fill="#fff" stroke="#000" stroke-width="1.72" />
<ellipse cx="494.4" cy="848.6" rx="5" ry="3" fill="#fff" stroke="#000" stroke-width="1.72" />
<ellipse cx="515.4" cy="846.4" rx="5" ry="3" fill="#fff" stroke="#000" stroke-width="1.72" />
<ellipse cx="596.7" cy="832.4" rx="5" ry="3" fill="#fff" stroke="#000" stroke-width="1.72" />
<ellipse cx="561.2" cy="784" rx="5" ry="3" fill="#fff" stroke="#000" stroke-width="1.72" />
<ellipse cx="609.6" cy="795.3" rx="4" ry="2.5" fill="#fff" stroke="#000" stroke-width="1.72" />
<ellipse cx="640.8" cy="807.7" rx="6" ry="3.5" fill="#fff" stroke="#000" stroke-width="1.72" />
<line x1="430.5" y1="810" x2="430.5" y2="821" stroke="#000" stroke-width="1.38" />
<line x1="562.5" y1="755" x2="562.5" y2="784" stroke="#000" stroke-width="1.49" />
<line x1="610" y1="784" x2="610" y2="793" stroke="#000" stroke-width="1.38" />
<path d="M424.3,856 Q429.5,851 434.7,856 L434.7,878 L424.3,878 Z" fill="#fff" stroke="#000" stroke-width="2.07" stroke-linejoin="round" stroke-linecap="round" />
<line x1="425.5" y1="859.0" x2="433.5" y2="859.0" stroke="#000" stroke-width="1.72" />
<line x1="425.5" y1="862.8" x2="433.5" y2="862.8" stroke="#000" stroke-width="1.72" />
<line x1="425.5" y1="866.6" x2="433.5" y2="866.6" stroke="#000" stroke-width="1.72" />
<line x1="425.5" y1="870.4" x2="433.5" y2="870.4" stroke="#000" stroke-width="1.72" />
<line x1="425.5" y1="874.2" x2="433.5" y2="874.2" stroke="#000" stroke-width="1.72" />
<path d="M424,877 L419.5,884 Q419,891 429,891 Q439,891 438.5,884 L435,877 Z" fill="#fff" stroke="#000" stroke-width="2.18" stroke-linejoin="round" stroke-linecap="round" />
<line x1="429.5" y1="845" x2="429.5" y2="852" stroke="#000" stroke-width="1.38" />
<line x1="442.5" y1="882.5" x2="457.5" y2="882.5" stroke="#000" stroke-width="2.88" />
<line x1="540.8" y1="860.4" x2="540.8" y2="912" stroke="#000" stroke-width="1.49" />
<line x1="610.2" y1="849.6" x2="610.2" y2="901" stroke="#000" stroke-width="1.49" />
<path d="M515.8,911.0 L958.1,839.5 L982.6,847.7 L984.0,854.5 L540.9,926.8 L515.0,917.5 Z" fill="#fff" stroke="#000" stroke-width="2.30" stroke-linejoin="round" stroke-linecap="round" />
<path d="M515.8,911.0 L540.9,919.6 L982.6,847.7" fill="none" stroke="#000" stroke-width="1.72" stroke-linejoin="round" stroke-linecap="round" />
<line x1="540.9" y1="919.6" x2="540.9" y2="926.8" stroke="#000" stroke-width="1.61" />
<ellipse cx="540.9" cy="913.2" rx="4.5" ry="2.5" fill="#fff" stroke="#000" stroke-width="1.61" />
<ellipse cx="610.5" cy="901" rx="4.5" ry="2.5" fill="#fff" stroke="#000" stroke-width="1.61" />
<ellipse cx="672.9" cy="891" rx="4.5" ry="2.5" fill="#fff" stroke="#000" stroke-width="1.61" />
<ellipse cx="759.1" cy="876.3" rx="4.5" ry="2.5" fill="#fff" stroke="#000" stroke-width="1.61" />
<ellipse cx="851.8" cy="861.3" rx="4.5" ry="2.5" fill="#fff" stroke="#000" stroke-width="1.61" />
<ellipse cx="925.4" cy="849.1" rx="4.5" ry="2.5" fill="#fff" stroke="#000" stroke-width="1.61" />
<line x1="672.9" y1="880" x2="672.9" y2="891" stroke="#000" stroke-width="1.38" />
<line x1="925.4" y1="838" x2="925.4" y2="849" stroke="#000" stroke-width="1.38" />
<line x1="757.7" y1="849" x2="757.7" y2="873.6" stroke="#000" stroke-width="1.61" />
<line x1="671.4" y1="905.3" x2="671.4" y2="1000" stroke="#000" stroke-width="1.38" />
<line x1="925.4" y1="854" x2="925.4" y2="1060" stroke="#000" stroke-width="1.38" />
<line x1="540.9" y1="929" x2="540.9" y2="937" stroke="#000" stroke-width="1.38" stroke-dasharray="3 2"/>
<line x1="610.5" y1="917" x2="610.5" y2="927" stroke="#000" stroke-width="1.38" stroke-dasharray="3 2"/>
<line x1="515.5" y1="920" x2="513" y2="922" stroke="#000" stroke-width="1.38" />
<path d="M967.6,838.2 L1080.8,817.7 L1109.4,825.9 L1110.8,834.1 L994.9,853.2 Z" fill="#fff" stroke="#000" stroke-width="2.30" stroke-linejoin="round" stroke-linecap="round" />
<path d="M967.6,838.2 L993.0,847.0 L1109.4,825.9" fill="none" stroke="#000" stroke-width="1.72" stroke-linejoin="round" stroke-linecap="round" />
<line x1="993" y1="847" x2="994.9" y2="853.2" stroke="#000" stroke-width="1.49" />
<path d="M534.6999999999999,943.4 Q540.9,938.4 547.1,943.4 L547.1,966.3 L534.6999999999999,966.3 Z" fill="#fff" stroke="#000" stroke-width="2.07" stroke-linejoin="round" stroke-linecap="round" />
<line x1="535.9" y1="944.4" x2="545.9" y2="944.4" stroke="#000" stroke-width="1.61" />
<line x1="535.9" y1="948.1999999999999" x2="545.9" y2="948.1999999999999" stroke="#000" stroke-width="1.61" />
<line x1="535.9" y1="952.0" x2="545.9" y2="952.0" stroke="#000" stroke-width="1.61" />
<line x1="535.9" y1="955.8" x2="545.9" y2="955.8" stroke="#000" stroke-width="1.61" />
<line x1="535.9" y1="959.6" x2="545.9" y2="959.6" stroke="#000" stroke-width="1.61" />
<line x1="535.9" y1="963.4" x2="545.9" y2="963.4" stroke="#000" stroke-width="1.61" />
<path d="M534.4,966.3 L530.6,971.3 Q529.9,977 540.9,977 Q551.9,977 551.1999999999999,971.3 L547.4,966.3 Z" fill="#fff" stroke="#000" stroke-width="2.18" stroke-linejoin="round" stroke-linecap="round" />
<path d="M604.3,931.2 Q610.5,926.2 616.7,931.2 L616.7,954.8 L604.3,954.8 Z" fill="#fff" stroke="#000" stroke-width="2.07" stroke-linejoin="round" stroke-linecap="round" />
<line x1="605.5" y1="932.2" x2="615.5" y2="932.2" stroke="#000" stroke-width="1.61" />
<line x1="605.5" y1="936.0" x2="615.5" y2="936.0" stroke="#000" stroke-width="1.61" />
<line x1="605.5" y1="939.8000000000001" x2="615.5" y2="939.8000000000001" stroke="#000" stroke-width="1.61" />
<line x1="605.5" y1="943.6" x2="615.5" y2="943.6" stroke="#000" stroke-width="1.61" />
<line x1="605.5" y1="947.4000000000001" x2="615.5" y2="947.4000000000001" stroke="#000" stroke-width="1.61" />
<line x1="605.5" y1="951.2" x2="615.5" y2="951.2" stroke="#000" stroke-width="1.61" />
<path d="M604.0,954.8 L600.2,959.8 Q599.5,966.3 610.5,966.3 Q621.5,966.3 620.8,959.8 L617.0,954.8 Z" fill="#fff" stroke="#000" stroke-width="2.18" stroke-linejoin="round" stroke-linecap="round" />
<line x1="550.9" y1="947.6" x2="598.3" y2="941.9" stroke="#000" stroke-width="3.45" />
<path d="M436.9,1021.4 L437.5,1012.2 L487.4,1004.2  C494.5,1005.4 520.3,1010.2 529.9,1011.1 C539.5,1012.0 537.3,1010.9 544.8,1009.9 C552.3,1008.9 565.5,1006.3 575.0,1005.0 C584.5,1003.7 595.2,1002.9 601.6,1001.9 C607.9,1000.9 609.7,1000.0 613.3,999.1 C616.8,998.3 621.2,997.5 623.0,996.7 C624.8,995.9 624.5,995.0 624.1,994.3 C623.7,993.6 622.1,992.8 620.8,992.6 C619.5,992.4 617.8,993.0 616.3,993.1 C614.8,993.1 612.6,993.4 611.9,992.9 C611.2,992.4 611.2,990.7 611.9,989.9 C612.7,989.1 614.0,988.5 616.3,988.2 C618.6,987.8 622.4,987.4 625.6,987.9 C628.7,988.3 631.8,989.6 635.2,990.6 C638.5,991.7 641.9,993.7 645.9,994.1 C649.8,994.5 654.9,993.6 658.9,992.9 C662.8,992.2 666.8,990.8 669.5,989.9 C672.2,989.1 673.9,988.7 675.0,988.0 C676.1,987.3 676.5,986.3 676.1,985.6 C675.7,984.9 674.1,984.1 672.8,983.9 C671.5,983.7 669.8,984.3 668.3,984.4 C666.8,984.4 664.6,984.7 663.9,984.2 C663.2,983.7 663.2,982.0 663.9,981.2 C664.7,980.5 666.0,979.8 668.3,979.5 C670.6,979.2 674.4,978.8 677.6,979.2 C680.7,979.6 683.8,980.9 687.2,981.9 C690.5,983.0 693.9,985.0 697.9,985.4 C701.8,985.8 706.9,984.9 710.9,984.3 C714.8,983.6 718.8,982.1 721.5,981.3 C724.2,980.4 725.9,980.1 727.0,979.3 C728.1,978.6 728.5,977.6 728.1,976.9 C727.7,976.2 726.1,975.4 724.8,975.2 C723.5,975.0 721.8,975.6 720.3,975.7 C718.8,975.7 716.6,976.0 715.9,975.5 C715.2,975.0 715.2,973.3 715.9,972.6 C716.7,971.8 718.0,971.2 720.3,970.8 C722.6,970.5 726.4,970.1 729.6,970.5 C732.7,970.9 735.8,972.2 739.2,973.2 C742.5,974.3 745.9,976.3 749.9,976.7 C753.8,977.1 758.9,976.3 762.9,975.6 C766.8,974.9 770.8,973.4 773.5,972.6 C776.2,971.8 777.9,971.4 779.0,970.6 C780.1,969.9 780.5,968.9 780.1,968.2 C779.7,967.5 778.1,966.8 776.8,966.6 C775.5,966.4 773.8,967.0 772.3,967.0 C770.8,967.0 768.6,967.3 767.9,966.8 C767.2,966.3 767.2,964.7 767.9,963.9 C768.7,963.1 770.0,962.5 772.3,962.1 C774.6,961.8 778.4,961.4 781.6,961.8 C784.7,962.2 787.8,963.5 791.2,964.6 C794.5,965.6 797.9,967.7 801.9,968.0 C805.8,968.4 810.9,967.6 814.9,966.9 C818.8,966.2 822.8,964.7 825.5,963.9 C828.2,963.1 829.9,962.7 831.0,962.0 C832.1,961.2 832.5,960.2 832.1,959.5 C831.7,958.9 830.1,958.1 828.8,957.9 C827.5,957.7 825.8,958.3 824.3,958.3 C822.8,958.4 820.6,958.7 819.9,958.1 C819.2,957.6 819.2,956.0 819.9,955.2 C820.7,954.4 822.0,953.8 824.3,953.5 C826.6,953.1 830.4,952.7 833.6,953.1 C836.7,953.5 839.8,954.8 843.2,955.9 C846.5,956.9 849.9,959.0 853.9,959.4 C857.8,959.7 862.9,958.9 866.9,958.2 C870.8,957.5 874.8,956.0 877.5,955.2 C880.2,954.4 881.9,954.0 883.0,953.3 C884.1,952.6 884.5,951.5 884.1,950.9 C883.7,950.2 882.1,949.4 880.8,949.2 C879.5,949.0 877.8,949.6 876.3,949.6 C874.8,949.7 872.6,950.0 871.9,949.5 C871.2,948.9 871.2,947.3 871.9,946.5 C872.7,945.7 874.0,945.1 876.3,944.8 C878.6,944.4 882.4,944.0 885.6,944.4 C888.7,944.8 891.8,946.2 895.2,947.2 C898.5,948.2 901.9,950.3 905.9,950.7 C909.8,951.1 914.9,950.2 918.9,949.5 C922.8,948.8 926.8,947.3 929.5,946.5 C932.2,945.7 933.9,945.3 935.0,944.6 C936.1,943.9 936.5,942.9 936.1,942.2 C935.7,941.5 934.1,940.7 932.8,940.5 C931.5,940.3 929.8,940.9 928.3,940.9 C926.8,941.0 924.6,941.3 923.9,940.8 C923.2,940.2 923.2,938.6 923.9,937.8 C924.7,937.0 926.0,936.4 928.3,936.1 C930.6,935.7 934.4,935.3 937.6,935.8 C940.7,936.2 943.8,937.5 947.2,938.5 C950.5,939.5 953.9,941.6 957.9,942.0 C961.8,942.4 966.9,941.5 970.9,940.8 C974.8,940.1 978.8,938.7 981.5,937.8 C984.2,937.0 985.9,936.6 987.0,935.9 C988.1,935.2 988.5,934.2 988.1,933.5 C987.7,932.8 986.1,932.0 984.8,931.8 C983.5,931.6 981.8,932.2 980.3,932.3 C978.8,932.3 976.6,932.6 975.9,932.1 C975.2,931.6 975.2,929.9 975.9,929.1 C976.7,928.4 978.0,927.7 980.3,927.4 C982.6,927.1 986.4,926.7 989.6,927.1 C992.7,927.5 995.8,928.8 999.2,929.8 C1002.5,930.9 1005.9,932.9 1009.9,933.3 C1013.8,933.7 1018.9,932.8 1022.9,932.2 C1026.8,931.5 1030.8,930.0 1033.5,929.2 C1036.2,928.3 1037.9,928.0 1039.0,927.2 C1040.1,926.5 1040.5,925.5 1040.1,924.8 C1039.7,924.1 1038.1,923.3 1036.8,923.1 C1035.5,922.9 1033.8,923.5 1032.3,923.6 C1030.8,923.6 1028.6,923.9 1027.9,923.4 C1027.2,922.9 1027.2,921.2 1027.9,920.5 C1028.7,919.7 1030.0,919.1 1032.3,918.7 C1034.6,918.4 1038.4,918.0 1041.6,918.4 C1044.7,918.8 1046.8,921.1 1051.2,921.1 C1055.6,921.1 1063.1,917.6 1067.9,918.3 C1072.7,919.1 1075.7,923.3 1080.0,925.5 C1084.3,927.7 1091.7,930.3 1094.0,931.3 L1094.0,931.3 L1094.7,939.5 L1010.9,953.2 L1004.0,951.8 L575.0,1025.5 L571.2,1024.8 L576.9,1031.7 L576.9,1036.3 L529.9,1043.2 L498.9,1040.9 L439.2,1023.7 L436.9,1021.4" fill="#fff" stroke="#000" stroke-width="2.64" stroke-linejoin="round" stroke-linecap="round" />
<path d="M576.0,1030.0 L1004.0,947.5" fill="none" stroke="#000" stroke-width="1.38" stroke-linejoin="round" stroke-linecap="round" />
<path d="M1004.0,947.5 L1094.0,932.0" fill="none" stroke="#000" stroke-width="1.38" stroke-linejoin="round" stroke-linecap="round" />
<path d="M437.5,1012.2 L439.2,1018.5 L498.9,1037.5 L529.9,1039.0 L576.0,1031.0" fill="none" stroke="#000" stroke-width="1.38" stroke-linejoin="round" stroke-linecap="round" />
<path d="M498.9,1037.5 L498.9,1040.9 M529.9,1039.0 L529.9,1043.2" fill="none" stroke="#000" stroke-width="1.38" stroke-linejoin="round" stroke-linecap="round" />
<path d="M979.0,933.0 L1004.0,947.5 L1004.0,951.8" fill="none" stroke="#000" stroke-width="1.61" stroke-linejoin="round" stroke-linecap="round" />
<path d="M623.3,995.4 C622.8,995.3 621.6,994.6 620.1,994.5 C618.7,994.5 615.5,995.0 614.6,995.1" fill="none" stroke="#000" stroke-width="1.26" stroke-linejoin="round" stroke-linecap="round" />
<path d="M675.3,986.8 C674.8,986.6 673.6,985.9 672.1,985.9 C670.7,985.8 667.5,986.3 666.6,986.4" fill="none" stroke="#000" stroke-width="1.26" stroke-linejoin="round" stroke-linecap="round" />
<path d="M727.3,978.1 C726.8,977.9 725.6,977.2 724.1,977.2 C722.7,977.1 719.5,977.6 718.6,977.7" fill="none" stroke="#000" stroke-width="1.26" stroke-linejoin="round" stroke-linecap="round" />
<path d="M779.3,969.4 C778.8,969.2 777.6,968.6 776.1,968.5 C774.7,968.4 771.5,968.9 770.6,969.0" fill="none" stroke="#000" stroke-width="1.26" stroke-linejoin="round" stroke-linecap="round" />
<path d="M831.3,960.7 C830.8,960.6 829.6,959.9 828.1,959.8 C826.7,959.7 823.5,960.2 822.6,960.3" fill="none" stroke="#000" stroke-width="1.26" stroke-linejoin="round" stroke-linecap="round" />
<path d="M883.3,952.0 C882.8,951.9 881.6,951.2 880.1,951.1 C878.7,951.1 875.5,951.6 874.6,951.6" fill="none" stroke="#000" stroke-width="1.26" stroke-linejoin="round" stroke-linecap="round" />
<path d="M935.3,943.3 C934.8,943.2 933.6,942.5 932.1,942.4 C930.7,942.4 927.5,942.9 926.6,943.0" fill="none" stroke="#000" stroke-width="1.26" stroke-linejoin="round" stroke-linecap="round" />
<path d="M987.3,934.6 C986.8,934.5 985.6,933.8 984.1,933.8 C982.7,933.7 979.5,934.2 978.6,934.3" fill="none" stroke="#000" stroke-width="1.26" stroke-linejoin="round" stroke-linecap="round" />
<path d="M1039.3,926.0 C1038.8,925.8 1037.6,925.1 1036.1,925.1 C1034.7,925.0 1031.5,925.5 1030.6,925.6" fill="none" stroke="#000" stroke-width="1.26" stroke-linejoin="round" stroke-linecap="round" />
<path d="M474.4,1026.0 L515.4,1034.0 A8.2,6.969999999999999 11.0 0 0 518.6,1018.0 L477.6,1010.0 A8.2,6.969999999999999 11.0 0 0 474.4,1026.0 Z" fill="#fff" stroke="#000" stroke-width="2.18" stroke-linejoin="round" stroke-linecap="round" />
<path d="M475.9,1025.7 L514.9,1033.2 A5.8,4.93 10.9 0 0 517.1,1021.8 L478.1,1014.3 A5.8,4.93 10.9 0 0 475.9,1025.7 Z" fill="#fff" stroke="#000" stroke-width="1.49" stroke-linejoin="round" stroke-linecap="round" />
<path d="M659.7,998.5 L699.9,992.0 Q702.9,995.0 700.9,997.0 L660.7,1003.5 Q657.7,1001.5 659.7,998.5 Z" fill="#fff" stroke="#000" stroke-width="1.84" stroke-linejoin="round" stroke-linecap="round" />
<path d="M908,957 L950,950 Q953,953 951,955 L909,962 Q906,960 908,957 Z" fill="#fff" stroke="#000" stroke-width="1.84" stroke-linejoin="round" stroke-linecap="round" />
<path d="M439.2,1128.1 L439.2,1117.2 L482.8,1109.8 L533.3,1114.4  C535.2,1114.0 535.3,1114.6 544.8,1112.1 C554.2,1109.6 578.4,1102.2 590.0,1099.5 C601.6,1096.8 607.9,1096.9 614.3,1095.8 C620.6,1094.7 623.7,1093.8 628.0,1092.9 C632.2,1092.0 637.5,1091.3 639.7,1090.3 C641.9,1089.3 641.5,1087.8 641.1,1086.8 C640.7,1085.8 639.6,1084.8 637.1,1084.5 C634.7,1084.1 630.3,1084.7 626.6,1084.9 C622.9,1085.1 617.6,1086.1 614.9,1085.8 C612.2,1085.4 610.7,1084.1 610.4,1082.8 C610.1,1081.5 610.6,1079.2 613.1,1077.8 C615.6,1076.4 621.4,1074.9 625.4,1074.4 C629.4,1073.8 633.8,1073.7 636.9,1074.5 C640.0,1075.4 641.2,1077.8 643.9,1079.4 C646.5,1081.0 649.3,1083.2 652.9,1084.4 C656.5,1085.6 661.1,1086.7 665.5,1086.7 C669.9,1086.7 674.9,1085.4 679.3,1084.5 C683.7,1083.5 689.4,1082.2 691.7,1081.0 C694.0,1079.9 693.5,1078.5 693.1,1077.5 C692.7,1076.6 691.6,1075.5 689.1,1075.2 C686.7,1074.9 682.3,1075.4 678.6,1075.7 C674.9,1075.9 669.6,1076.9 666.9,1076.5 C664.2,1076.2 662.7,1074.9 662.4,1073.6 C662.1,1072.2 662.6,1069.9 665.1,1068.5 C667.6,1067.1 673.4,1065.6 677.4,1065.1 C681.4,1064.6 685.8,1064.5 688.9,1065.3 C692.0,1066.1 693.2,1068.5 695.9,1070.1 C698.5,1071.8 701.3,1073.9 704.9,1075.1 C708.5,1076.4 713.1,1077.5 717.5,1077.5 C721.9,1077.5 726.9,1076.2 731.3,1075.2 C735.7,1074.3 741.4,1072.9 743.7,1071.8 C746.0,1070.6 745.5,1069.3 745.1,1068.3 C744.7,1067.3 743.6,1066.3 741.1,1065.9 C738.7,1065.6 734.3,1066.2 730.6,1066.4 C726.9,1066.6 721.6,1067.6 718.9,1067.3 C716.2,1066.9 714.7,1065.6 714.4,1064.3 C714.1,1063.0 714.6,1060.7 717.1,1059.3 C719.6,1057.8 725.4,1056.4 729.4,1055.8 C733.4,1055.3 737.8,1055.2 740.9,1056.0 C744.0,1056.9 745.2,1059.2 747.9,1060.9 C750.5,1062.5 753.3,1064.7 756.9,1065.9 C760.5,1067.1 765.1,1068.2 769.5,1068.2 C773.9,1068.2 778.9,1066.9 783.3,1066.0 C787.7,1065.0 793.4,1063.7 795.7,1062.5 C798.0,1061.4 797.5,1060.0 797.1,1059.0 C796.7,1058.1 795.6,1057.0 793.1,1056.7 C790.7,1056.4 786.3,1056.9 782.6,1057.2 C778.9,1057.4 773.6,1058.4 770.9,1058.0 C768.2,1057.7 766.7,1056.4 766.4,1055.0 C766.1,1053.7 766.6,1051.4 769.1,1050.0 C771.6,1048.6 777.4,1047.1 781.4,1046.6 C785.4,1046.1 789.8,1045.9 792.9,1046.8 C796.0,1047.6 797.2,1050.0 799.9,1051.6 C802.5,1053.3 805.3,1055.4 808.9,1056.6 C812.5,1057.9 817.1,1058.9 821.5,1059.0 C825.9,1059.0 830.9,1057.7 835.3,1056.7 C839.7,1055.8 845.4,1054.4 847.7,1053.3 C850.0,1052.1 849.5,1050.7 849.1,1049.8 C848.7,1048.8 847.6,1047.7 845.1,1047.4 C842.7,1047.1 838.3,1047.7 834.6,1047.9 C830.9,1048.1 825.6,1049.1 822.9,1048.7 C820.2,1048.4 818.7,1047.1 818.4,1045.8 C818.1,1044.5 818.6,1042.2 821.1,1040.7 C823.6,1039.3 829.4,1037.9 833.4,1037.3 C837.4,1036.8 841.8,1036.7 844.9,1037.5 C848.0,1038.4 849.2,1040.7 851.9,1042.4 C854.5,1044.0 857.3,1046.2 860.9,1047.4 C864.5,1048.6 869.1,1049.7 873.5,1049.7 C877.9,1049.7 882.9,1048.4 887.3,1047.4 C891.7,1046.5 897.4,1045.2 899.7,1044.0 C902.0,1042.9 901.5,1041.5 901.1,1040.5 C900.7,1039.5 899.6,1038.5 897.1,1038.2 C894.7,1037.9 890.3,1038.4 886.6,1038.6 C882.9,1038.9 877.6,1039.8 874.9,1039.5 C872.2,1039.1 870.7,1037.9 870.4,1036.5 C870.1,1035.2 870.6,1032.9 873.1,1031.5 C875.6,1030.1 881.4,1028.6 885.4,1028.1 C889.4,1027.5 893.8,1027.4 896.9,1028.3 C900.0,1029.1 901.2,1031.5 903.9,1033.1 C906.5,1034.8 909.3,1036.9 912.9,1038.1 C916.5,1039.3 921.1,1040.4 925.5,1040.4 C929.9,1040.5 934.9,1039.1 939.3,1038.2 C943.7,1037.2 949.4,1035.9 951.7,1034.8 C954.0,1033.6 953.5,1032.2 953.1,1031.3 C952.7,1030.3 951.6,1029.2 949.1,1028.9 C946.7,1028.6 942.3,1029.2 938.6,1029.4 C934.9,1029.6 929.6,1030.6 926.9,1030.2 C924.2,1029.9 922.7,1028.6 922.4,1027.3 C922.1,1025.9 922.6,1023.6 925.1,1022.2 C927.6,1020.8 933.4,1019.4 937.4,1018.8 C941.4,1018.3 945.8,1018.2 948.9,1019.0 C952.0,1019.9 953.2,1022.2 955.9,1023.9 C958.5,1025.5 961.3,1027.6 964.9,1028.9 C968.5,1030.1 973.1,1031.2 977.5,1031.2 C981.9,1031.2 986.9,1029.9 991.3,1028.9 C995.7,1028.0 1001.4,1026.7 1003.7,1025.5 C1006.0,1024.4 1005.5,1023.0 1005.1,1022.0 C1004.7,1021.0 1003.6,1020.0 1001.1,1019.7 C998.7,1019.4 994.3,1019.9 990.6,1020.1 C986.9,1020.3 981.6,1021.3 978.9,1021.0 C976.2,1020.6 974.7,1019.4 974.4,1018.0 C974.1,1016.7 974.6,1014.4 977.1,1013.0 C979.6,1011.6 985.4,1010.1 989.4,1009.6 C993.4,1009.0 997.8,1008.9 1000.9,1009.8 C1004.0,1010.6 1005.2,1013.0 1007.9,1014.6 C1010.5,1016.3 1013.3,1018.4 1016.9,1019.6 C1020.5,1020.8 1025.1,1021.9 1029.5,1021.9 C1033.9,1021.9 1038.9,1020.6 1043.3,1019.7 C1047.7,1018.7 1053.4,1017.4 1055.7,1016.3 C1058.0,1015.1 1057.5,1013.7 1057.1,1012.8 C1056.7,1011.8 1055.6,1010.7 1053.1,1010.4 C1050.7,1010.1 1046.3,1010.7 1042.6,1010.9 C1038.9,1011.1 1033.6,1012.1 1030.9,1011.7 C1028.2,1011.4 1026.7,1010.1 1026.4,1008.8 C1026.1,1007.4 1026.6,1005.1 1029.1,1003.7 C1031.6,1002.3 1037.4,1000.9 1041.4,1000.3 C1045.4,999.8 1049.8,999.7 1052.9,1000.5 C1056.0,1001.3 1057.2,1003.7 1059.9,1005.4 C1062.5,1007.0 1064.6,1009.4 1068.9,1010.4 C1073.1,1011.3 1077.4,1008.5 1085.2,1011.0 C1093.1,1013.5 1110.7,1023.0 1115.8,1025.4 L1115.8,1025.4 L1115.8,1028.8 L1021.8,1044.5 L830.0,1074.3 L580.0,1121.0 L567.7,1124.7 L576.9,1132.7 L575.8,1139.6 L528.7,1147.7 L497.7,1144.2 L439.2,1128.1" fill="#fff" stroke="#000" stroke-width="2.64" stroke-linejoin="round" stroke-linecap="round" />
<path d="M566.0,1120.5 L830.0,1068.5 L1005.0,1038.0 L1115.0,1026.5" fill="none" stroke="#000" stroke-width="1.38" stroke-linejoin="round" stroke-linecap="round" />
<path d="M439.2,1117.2 L441.0,1123.5 L497.7,1140.5 L528.7,1143.0 L575.0,1134.0" fill="none" stroke="#000" stroke-width="1.38" stroke-linejoin="round" stroke-linecap="round" />
<path d="M544.8,1112.1 L567.7,1124.7" fill="none" stroke="#000" stroke-width="1.49" stroke-linejoin="round" stroke-linecap="round" />
<path d="M558.5,1108.5 L590.0,1117.0" fill="none" stroke="#000" stroke-width="1.38" stroke-linejoin="round" stroke-linecap="round" />
<path d="M1000.0,1034.0 L1021.8,1044.5" fill="none" stroke="#000" stroke-width="1.49" stroke-linejoin="round" stroke-linecap="round" />
<path d="M640.4,1088.4 C639.6,1088.1 639.7,1086.7 636.0,1086.7 C632.3,1086.7 621.0,1088.2 618.0,1088.5" fill="none" stroke="#000" stroke-width="1.26" stroke-linejoin="round" stroke-linecap="round" />
<path d="M692.4,1079.1 C691.6,1078.8 691.7,1077.4 688.0,1077.4 C684.3,1077.5 673.0,1078.9 670.0,1079.2" fill="none" stroke="#000" stroke-width="1.26" stroke-linejoin="round" stroke-linecap="round" />
<path d="M744.4,1069.8 C743.6,1069.6 743.7,1068.2 740.0,1068.2 C736.3,1068.2 725.0,1069.7 722.0,1070.0" fill="none" stroke="#000" stroke-width="1.26" stroke-linejoin="round" stroke-linecap="round" />
<path d="M796.4,1060.6 C795.6,1060.3 795.7,1058.9 792.0,1058.9 C788.3,1058.9 777.0,1060.4 774.0,1060.7" fill="none" stroke="#000" stroke-width="1.26" stroke-linejoin="round" stroke-linecap="round" />
<path d="M848.4,1051.3 C847.6,1051.1 847.7,1049.6 844.0,1049.7 C840.3,1049.7 829.0,1051.1 826.0,1051.4" fill="none" stroke="#000" stroke-width="1.26" stroke-linejoin="round" stroke-linecap="round" />
<path d="M900.4,1042.1 C899.6,1041.8 899.7,1040.4 896.0,1040.4 C892.3,1040.4 881.0,1041.9 878.0,1042.2" fill="none" stroke="#000" stroke-width="1.26" stroke-linejoin="round" stroke-linecap="round" />
<path d="M952.4,1032.8 C951.6,1032.5 951.7,1031.1 948.0,1031.2 C944.3,1031.2 933.0,1032.6 930.0,1032.9" fill="none" stroke="#000" stroke-width="1.26" stroke-linejoin="round" stroke-linecap="round" />
<path d="M1004.4,1023.6 C1003.6,1023.3 1003.7,1021.9 1000.0,1021.9 C996.3,1021.9 985.0,1023.4 982.0,1023.7" fill="none" stroke="#000" stroke-width="1.26" stroke-linejoin="round" stroke-linecap="round" />
<path d="M1056.4,1014.3 C1055.6,1014.0 1055.7,1012.6 1052.0,1012.6 C1048.3,1012.7 1037.0,1014.1 1034.0,1014.4" fill="none" stroke="#000" stroke-width="1.26" stroke-linejoin="round" stroke-linecap="round" />
<path d="M476.7,1131.6 L520.3,1139.7 A8.2,6.969999999999999 10.5 0 0 523.3,1123.5 L479.7,1115.4 A8.2,6.969999999999999 10.5 0 0 476.7,1131.6 Z" fill="#fff" stroke="#000" stroke-width="2.18" stroke-linejoin="round" stroke-linecap="round" />
<path d="M478.2,1131.2 L519.8,1138.7 A5.8,4.93 10.2 0 0 521.8,1127.3 L480.2,1119.8 A5.8,4.93 10.2 0 0 478.2,1131.2 Z" fill="#fff" stroke="#000" stroke-width="1.49" stroke-linejoin="round" stroke-linecap="round" />
<path d="M652.4,1097.3 L692.5,1091.6 Q695.5,1094.6 693.5,1096.6 L653.4,1102.3 Q650.4,1100.3 652.4,1097.3 Z" fill="#fff" stroke="#000" stroke-width="1.84" stroke-linejoin="round" stroke-linecap="round" />
<path d="M902,1055 L945,1048 Q948,1051 946,1053 L903,1060 Q900,1058 902,1055 Z" fill="#fff" stroke="#000" stroke-width="1.84" stroke-linejoin="round" stroke-linecap="round" />
<line x1="671.4" y1="1010" x2="671.4" y2="1150" stroke="#000" stroke-width="1.38" />
<line x1="925.4" y1="1060" x2="925.4" y2="1125" stroke="#000" stroke-width="1.38" />
<path d="M664.7,1156.3 Q671,1151.3 677.3,1156.3 L677.3,1180.5 L664.7,1180.5 Z" fill="#fff" stroke="#000" stroke-width="2.07" stroke-linejoin="round" stroke-linecap="round" />
<line x1="666" y1="1157.3" x2="676" y2="1157.3" stroke="#000" stroke-width="1.61" />
<line x1="666" y1="1161.1" x2="676" y2="1161.1" stroke="#000" stroke-width="1.61" />
<line x1="666" y1="1164.8999999999999" x2="676" y2="1164.8999999999999" stroke="#000" stroke-width="1.61" />
<line x1="666" y1="1168.7" x2="676" y2="1168.7" stroke="#000" stroke-width="1.61" />
<line x1="666" y1="1172.5" x2="676" y2="1172.5" stroke="#000" stroke-width="1.61" />
<path d="M657,1187 L657,1192 A14,6 0 0 0 685,1192 L685,1187 Z" fill="#fff" stroke="#000" stroke-width="2.18"/><ellipse cx="671" cy="1187" rx="14" ry="6" fill="#fff" stroke="#000" stroke-width="2.18" />
<path d="M664,1180.5 L663,1190 Q671,1193 679,1190 L678,1180.5 Z" fill="#fff" stroke="#000" stroke-width="1.84" stroke-linejoin="round" stroke-linecap="round" />
<path d="M918.7,1126 Q925,1121 931.3,1126 L931.3,1150 L918.7,1150 Z" fill="#fff" stroke="#000" stroke-width="2.07" stroke-linejoin="round" stroke-linecap="round" />
<line x1="920" y1="1127.0" x2="930" y2="1127.0" stroke="#000" stroke-width="1.61" />
<line x1="920" y1="1130.8" x2="930" y2="1130.8" stroke="#000" stroke-width="1.61" />
<line x1="920" y1="1134.6" x2="930" y2="1134.6" stroke="#000" stroke-width="1.61" />
<line x1="920" y1="1138.4" x2="930" y2="1138.4" stroke="#000" stroke-width="1.61" />
<line x1="920" y1="1142.2" x2="930" y2="1142.2" stroke="#000" stroke-width="1.61" />
<path d="M911,1157 L911,1162 A14,6 0 0 0 939,1162 L939,1157 Z" fill="#fff" stroke="#000" stroke-width="2.18"/><ellipse cx="925" cy="1157" rx="14" ry="6" fill="#fff" stroke="#000" stroke-width="2.18" />
<path d="M918,1150 L917,1160 Q925,1163 933,1160 L932,1150 Z" fill="#fff" stroke="#000" stroke-width="1.84" stroke-linejoin="round" stroke-linecap="round" />
<path d="M491.0,1284.1 L626.3,1262.2 L667.8,1259.8 L689.8,1258.5 L733.7,1264.6 L738.5,1273.2 L765.4,1278.0 L782.4,1276.8 L793.4,1282.9 L794.6,1312.2 L762.9,1319.5 L636.1,1342.7 L502.0,1307.3 L500.7,1297.6 L493.4,1292.7 Z" fill="#fff" stroke="#000" stroke-width="2.53" stroke-linejoin="round" stroke-linecap="round" />
<path d="M493.4,1290.0 L645.9,1322.0 L760.5,1304.9 L767.8,1292.7 L794.0,1287.0" fill="none" stroke="#000" stroke-width="1.84" stroke-linejoin="round" stroke-linecap="round" />
<path d="M500.7,1297.6 L638.5,1331.7 L762.0,1312.0" fill="none" stroke="#000" stroke-width="1.61" stroke-linejoin="round" stroke-linecap="round" />
<line x1="638.5" y1="1331.7" x2="636.1" y2="1342.7" stroke="#000" stroke-width="1.49" />
<path d="M537.3,1284.1 L626.3,1270.7 L629.0,1291.0 L560.0,1302.0 L538.5,1296.3 Z" fill="none" stroke="#000" stroke-width="1.84" stroke-linejoin="round" stroke-linecap="round" />
<path d="M560.0,1300.0 L600.0,1292.0 L614.0,1297.0 L580.0,1306.0" fill="none" stroke="#000" stroke-width="1.49" stroke-linejoin="round" stroke-linecap="round" />
<path d="M662.0,1280.0 L700.0,1275.0 L725.0,1278.0 L732.0,1290.0 L700.0,1300.0 L660.0,1307.0 L645.0,1310.0" fill="none" stroke="#000" stroke-width="1.72" stroke-linejoin="round" stroke-linecap="round" />
<path d="M668.0,1290.0 L720.0,1300.0 L726.0,1295.0" fill="none" stroke="#000" stroke-width="1.49" stroke-linejoin="round" stroke-linecap="round" />
<path d="M692.0,1271.0 L708.0,1266.0 L726.0,1271.0 L726.0,1296.0 L708.0,1301.0 L692.0,1296.0 Z" fill="#fff" stroke="#000" stroke-width="1.72" stroke-linejoin="round" stroke-linecap="round" />
<path d="M692.0,1271.0 L708.0,1276.0 L726.0,1271.0 M708.0,1276.0 L708.0,1301.0 M700.0,1283.0 L700.0,1298.0 M716.0,1281.0 L716.0,1296.0" fill="none" stroke="#000" stroke-width="1.38" stroke-linejoin="round" stroke-linecap="round" />
<path d="M628.8,1272 L628.8,1292 A17,6 0 0,0 662.9,1292 L662.9,1272 Z" fill="#fff" stroke="#000" stroke-width="2.07" stroke-linejoin="round" stroke-linecap="round" />
<ellipse cx="645.9" cy="1272" rx="17" ry="6" fill="#fff" stroke="#000" stroke-width="1.84" />
<ellipse cx="521.5" cy="1287.8" rx="5.5" ry="3.3" fill="none" stroke="#000" stroke-width="1.72" />
<ellipse cx="623.9" cy="1314.6" rx="5.5" ry="3.3" fill="none" stroke="#000" stroke-width="1.72" />
<ellipse cx="744.6" cy="1295.1" rx="5.5" ry="3.3" fill="none" stroke="#000" stroke-width="1.72" />
<ellipse cx="776.3" cy="1285.4" rx="5.5" ry="3.3" fill="none" stroke="#000" stroke-width="1.72" />
<ellipse cx="644.6" cy="1239" rx="7.3" ry="7.3" fill="#000" stroke="#000" stroke-width="2.53" />
<ellipse cx="641.5" cy="1236.5" rx="2.5" ry="2" fill="#fff" stroke="#000" stroke-width="0.00" />
<line x1="645.9" y1="1251" x2="645.9" y2="1312" stroke="#000" stroke-width="1.49" />
<path d="M721.5,1239.0 L733.7,1235.4 L795.9,1246.3 L795.9,1251.0 L777.6,1256.1 L723.9,1243.9 Z" fill="#fff" stroke="#000" stroke-width="2.18" stroke-linejoin="round" stroke-linecap="round" />
<path d="M721.5,1239.0 L782.4,1251.2 L795.9,1246.3" fill="none" stroke="#000" stroke-width="1.61" stroke-linejoin="round" stroke-linecap="round" />
<line x1="782.4" y1="1251.2" x2="777.6" y2="1256.1" stroke="#000" stroke-width="1.49" />
<line x1="752" y1="1254.9" x2="752" y2="1273.2" stroke="#000" stroke-width="1.38" />
<line x1="520.2" y1="1314.6" x2="520.2" y2="1366" stroke="#000" stroke-width="1.38" stroke-dasharray="8 2"/>
<path d="M541.7,1376.2 L681.1,1355.5 L692.2,1357.3 L694.0,1382.3 L708.0,1381.1 L782.4,1405.5 L826.3,1399.4 L838.5,1403.7 L839.8,1441.5 L798.3,1443.3 L798.3,1448.0 L789.8,1446.3 L710.5,1457.3 L693.2,1458.8 L541.7,1412.3 Z" fill="#fff" stroke="#000" stroke-width="2.53" stroke-linejoin="round" stroke-linecap="round" />
<path d="M541.7,1376.2 L553.0,1381.0 L696.6,1422.5 L838.5,1402.4" fill="none" stroke="#000" stroke-width="1.72" stroke-linejoin="round" stroke-linecap="round" />
<path d="M553.0,1381.0 L692.0,1420.0 L698.0,1424.0 L826.0,1404.0" fill="none" stroke="#000" stroke-width="1.38" stroke-linejoin="round" stroke-linecap="round" />
<line x1="694" y1="1423" x2="694.5" y2="1457" stroke="#000" stroke-width="1.61" />
<line x1="709.9" y1="1426" x2="710.2" y2="1457" stroke="#000" stroke-width="1.61" />
<path d="M692.2,1357.3 L681.1,1360.0 L562.0,1378.5" fill="none" stroke="#000" stroke-width="1.49" stroke-linejoin="round" stroke-linecap="round" />
<path d="M703.0,1384.5 L777.6,1407.5" fill="none" stroke="#000" stroke-width="1.38" stroke-linejoin="round" stroke-linecap="round" stroke-dasharray="6 2"/>
<path d="M620.9,1395.1 L694.0,1383.0" fill="none" stroke="#000" stroke-width="1.49" stroke-linejoin="round" stroke-linecap="round" />
<path d="M512.4,1370 Q519.3,1365 526.2,1370 L526.2,1410 L512.4,1410 Z" fill="#fff" stroke="#000" stroke-width="2.07" stroke-linejoin="round" stroke-linecap="round" />
<line x1="513.5" y1="1373.0" x2="525" y2="1373.0" stroke="#000" stroke-width="1.72" />
<line x1="513.5" y1="1377.6" x2="525" y2="1377.6" stroke="#000" stroke-width="1.72" />
<line x1="513.5" y1="1382.2" x2="525" y2="1382.2" stroke="#000" stroke-width="1.72" />
<line x1="513.5" y1="1386.8" x2="525" y2="1386.8" stroke="#000" stroke-width="1.72" />
<line x1="513.5" y1="1391.4" x2="525" y2="1391.4" stroke="#000" stroke-width="1.72" />
<line x1="513.5" y1="1396.0" x2="525" y2="1396.0" stroke="#000" stroke-width="1.72" />
<line x1="513.5" y1="1400.6" x2="525" y2="1400.6" stroke="#000" stroke-width="1.72" />
<line x1="513.5" y1="1405.2" x2="525" y2="1405.2" stroke="#000" stroke-width="1.72" />
<path d="M506,1411 L506,1424 Q519,1431 532.5,1424 L532.5,1411 Q519,1405 506,1411 Z" fill="#fff" stroke="#000" stroke-width="2.18" stroke-linejoin="round" stroke-linecap="round" />
<path d="M506,1418 Q519,1424 532.5,1418" fill="none" stroke="#000" stroke-width="1.49" stroke-linejoin="round" stroke-linecap="round" />
<line x1="477.5" y1="1393.5" x2="510" y2="1393.5" stroke="#000" stroke-width="2.88" />
<g transform="translate(910 1354.5) rotate(-10.4)"><path d="M-40,0 L-30,-4.5 L-7,-5.5 L-7,5.5 L-30,4.5 Z" fill="#fff" stroke="#000" stroke-width="1.95" stroke-linejoin="round" stroke-linecap="round" /><line x1="-30.0" y1="-4.5" x2="-28.0" y2="4.5" stroke="#000" stroke-width="1.61" /><line x1="-25.5" y1="-4.5" x2="-23.5" y2="4.5" stroke="#000" stroke-width="1.61" /><line x1="-21.0" y1="-4.5" x2="-19.0" y2="4.5" stroke="#000" stroke-width="1.61" /><line x1="-16.5" y1="-4.5" x2="-14.5" y2="4.5" stroke="#000" stroke-width="1.61" /><line x1="-12.0" y1="-4.5" x2="-10.0" y2="4.5" stroke="#000" stroke-width="1.61" /><path d="M-8,-8 L2,-9 Q9,-8 9,0 Q9,8 2,9 L-8,8 Z" fill="#fff" stroke="#000" stroke-width="2.30" stroke-linejoin="round" stroke-linecap="round" /><line x1="-1" y1="-8" x2="-1" y2="8" stroke="#000" stroke-width="1.49" /></g>
<g transform="translate(953.5 1393.5) rotate(-12.9)"><path d="M-40,0 L-30,-4.5 L-7,-5.5 L-7,5.5 L-30,4.5 Z" fill="#fff" stroke="#000" stroke-width="1.95" stroke-linejoin="round" stroke-linecap="round" /><line x1="-30.0" y1="-4.5" x2="-28.0" y2="4.5" stroke="#000" stroke-width="1.61" /><line x1="-25.5" y1="-4.5" x2="-23.5" y2="4.5" stroke="#000" stroke-width="1.61" /><line x1="-21.0" y1="-4.5" x2="-19.0" y2="4.5" stroke="#000" stroke-width="1.61" /><line x1="-16.5" y1="-4.5" x2="-14.5" y2="4.5" stroke="#000" stroke-width="1.61" /><line x1="-12.0" y1="-4.5" x2="-10.0" y2="4.5" stroke="#000" stroke-width="1.61" /><path d="M-8,-8 L2,-9 Q9,-8 9,0 Q9,8 2,9 L-8,8 Z" fill="#fff" stroke="#000" stroke-width="2.30" stroke-linejoin="round" stroke-linecap="round" /><line x1="-1" y1="-8" x2="-1" y2="8" stroke="#000" stroke-width="1.49" /></g>
<line x1="737.9" y1="1386.5" x2="865.3" y2="1364.1" stroke="#000" stroke-width="1.72" />
<g font-family="Liberation Sans" font-weight="bold" font-size="16" fill="#1a1a1a" opacity="0.9"><text x="1235" y="1786" textLength="119" lengthAdjust="spacingAndGlyphs">EH00001 00 00d</text></g>
<text x="1233" y="1785" font-family="Liberation Serif" font-weight="bold" font-size="36" fill="#4a6cc4" opacity="0.95">m</text>
<text x="1265" y="1785" font-family="Liberation Serif" font-weight="bold" font-size="36" fill="#3aa83a" opacity="0.95">o</text>
<text x="1283" y="1785" font-family="Liberation Serif" font-weight="bold" font-size="36" fill="#e868a8" opacity="0.95">t</text>
<text x="1297" y="1785" font-family="Liberation Serif" font-weight="bold" font-size="36" fill="#3aa83a" opacity="0.95">o</text>
<text x="1315" y="1785" font-family="Liberation Serif" font-weight="bold" font-size="36" fill="#e85a1e" opacity="0.95">r</text>
<text x="1329" y="1785" font-family="Liberation Serif" font-weight="bold" font-size="36" fill="#f0a428" opacity="0.95">u</text>
<text x="1349" y="1785" font-family="Liberation Serif" font-weight="bold" font-size="36" fill="#f2d02a" opacity="0.95">f</text>
<text x="1363" y="1785" font-family="Liberation Serif" font-size="20" fill="#333">.de</text>
<path d="M165,165 L271,165 M307,166 L331,166 L331,239 L232,239 M269,200 L331,200 M331,185 L363,185 M96,263 L188,263 M95,295 L205,295 M115,342.5 L90,342.5 L90,710 L220,710 M90,392.5 L124,392.5 M52.5,480 L142.5,480 M90,602.5 L172.5,602.5 M307.5,609 L384,609 L384,702.5 L346,702.5 M384,649 L417.5,649 M317.5,830 L282.5,830 L282.5,1183.5 L312.5,1183.5 M352.5,830 L395,830 M282.5,911 L324,911 M385,911 L515,911 M381,966 L530,966 M282.5,966 L325,966 M282.5,1020 L435,1020 M247.5,1074 L282.5,1074 M282.5,1125 L437.5,1125 M375,1183.5 L655,1183.5 M690,1181 L774.5,1172 M827,1165 L909.5,1156 M405,1211 L384,1211 L384,1281 L487.5,1281 M387.5,1239 L404,1239 M352.5,1252.5 L384,1252.5 M445,1212.5 L760,1212.5 L760,1240 M445,1239 L637.5,1239 M1049.5,729 L1145,717.8 L1196.3,736.8 L1196.3,1238.5 L822,1270 L822,1370 M1049.5,771.7 L1145,754.2 L1240.8,799.7 L1240.8,1357.5 L962,1392.5 M1139.1,575 L1139.1,784.3 L756,849.2 L758.7,849.2 M1219.5,569 L1219.5,780.4 L851,842 M928,1314 L907,1347.5 M928,1314 L954.5,1387.5 M842,1415 L924.5,1400 M839.5,1435 L919.5,1468.5" fill="none" stroke="#000" stroke-width="3.3" stroke-linejoin="miter"/>
<g font-family="Liberation Sans" font-weight="bold" font-size="28" letter-spacing="-1.6" fill="#000"><text x="277.0" y="173.7">22</text><text x="365.0" y="189.7">21</text><text x="62.0" y="273.7">29</text><text x="59.0" y="305.7">28</text><text x="129.0" y="350.7">24</text><text x="133.0" y="395.7">25</text><text x="20.0" y="490.7">23</text><text x="419.0" y="657.7">26</text><text x="319.0" y="709.7">27</text><text x="318.0" y="833.7">16</text><text x="461.0" y="891.7">20</text><text x="1266.0" y="250.7">3</text><text x="1267.0" y="333.7">4</text><text x="1082.0" y="363.7">2</text><text x="1007.0" y="440.7">1</text><text x="953.0" y="613.7">6</text><text x="953.0" y="662.7">7</text><text x="1013.0" y="660.7">8</text><text x="1313.0" y="680.7">5</text><text x="332.0" y="920.7">18</text><text x="339.0" y="969.7">19</text><text x="217.0" y="1082.7">15</text><text x="330.0" y="1193.7">17</text><text x="408.0" y="1215.7">13</text><text x="408.0" y="1249.7">14</text><text x="320.0" y="1261.7">12</text><text x="447.0" y="1403.7">11</text><text x="786.0" y="1178.7">17</text><text x="919.0" y="1300.7">9</text><text x="918.0" y="1483.7">10</text></g>
</svg></body></html>
